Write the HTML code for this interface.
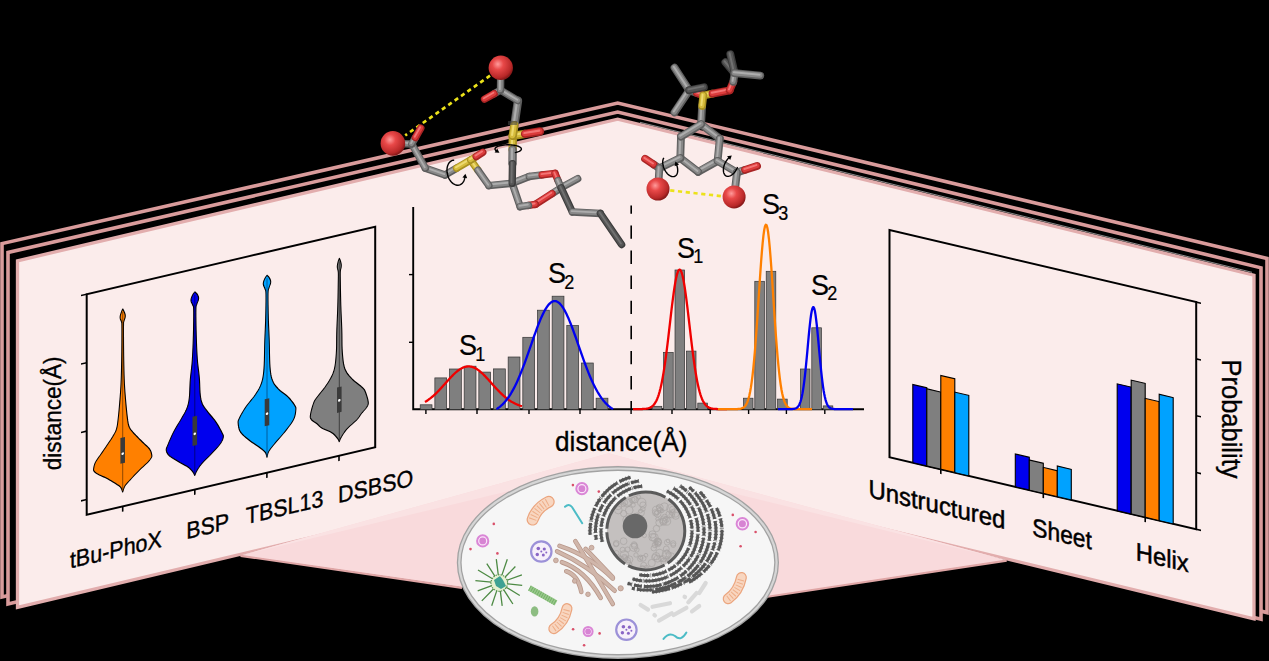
<!DOCTYPE html><html><head><meta charset="utf-8"><style>
html,body{margin:0;padding:0;background:#000;overflow:hidden}
svg{display:block;font-family:"Liberation Sans",sans-serif}
</style></head><body>
<svg width="1269" height="661" viewBox="0 0 1269 661">
<rect width="1269" height="661" fill="#000"/>
<path d="M2.0,597.0 L2.0,243.6 L617.7,103.0 L1267.0,258.4 L1267.0,612.6 L617.7,451.0 Z" fill="#000" stroke="#d99b9b" stroke-width="3.6" stroke-linejoin="miter"/>
<path d="M8.0,604.0 L8.0,252.4 L617.7,112.0 L1261.0,267.8 L1261.0,619.2 L617.7,458.0 Z" fill="#000" stroke="#d99b9b" stroke-width="3.6" stroke-linejoin="miter"/>
<path d="M17.5,607.4 L17.5,260.8 L617.7,119.2 L1254.0,275.2 L1254.0,618.8 L617.7,464.6 Z" fill="#fbeceb" stroke="#e2adad" stroke-width="3.3" stroke-linejoin="miter"/>
<line x1="640" y1="122.3" x2="1252" y2="272.3" stroke="#fff" stroke-width="0.8" opacity="0.7"/>
<polygon points="240.5,555.5 608.7,453.3 1006.7,560.3 768,596.4 618,605 459.9,587" fill="#f9dadc"/>
<polygon points="240.5,555.5 608.7,453.3 1006.7,560.3 617.7,464.8" fill="#fae2e3"/>
<path d="M240.5,555.8 L462,587.8 M1006.7,560.6 L766,597" stroke="#e0a6a6" stroke-width="2.2" fill="none"/>
<ellipse cx="617.9" cy="562.5" rx="158.7" ry="94" fill="#f6f6f6" stroke="#a2a2a2" stroke-width="4.8"/>
<ellipse cx="617.9" cy="562.5" rx="158.7" ry="94" fill="none" stroke="#d6d6d6" stroke-width="2.2"/>
<g transform="matrix(1,-0.234,0,1,0,20.288)">
<path d="M86.7,294.2 L375.2,294.2 L375.2,514.8 L86.7,514.8 Z" fill="none" stroke="#000" stroke-width="2.0"/>
<line x1="81" y1="294.2" x2="86.7" y2="294.2" stroke="#000" stroke-width="1.6"/>
<line x1="81" y1="362.7" x2="86.7" y2="362.7" stroke="#000" stroke-width="1.6"/>
<line x1="81" y1="431.1" x2="86.7" y2="431.1" stroke="#000" stroke-width="1.6"/>
<line x1="81" y1="499.5" x2="86.7" y2="499.5" stroke="#000" stroke-width="1.6"/>
<line x1="122.7" y1="514.8" x2="122.7" y2="520" stroke="#000" stroke-width="1.6"/>
<line x1="194.8" y1="514.8" x2="194.8" y2="520" stroke="#000" stroke-width="1.6"/>
<line x1="266.9" y1="514.8" x2="266.9" y2="520" stroke="#000" stroke-width="1.6"/>
<line x1="339.0" y1="514.8" x2="339.0" y2="520" stroke="#000" stroke-width="1.6"/>
<polygon points="122.70,317.40 122.83,317.67 123.01,318.04 123.23,318.48 123.46,318.97 123.69,319.48 123.90,320.00 124.11,320.54 124.34,321.12 124.58,321.73 124.79,322.34 124.97,322.94 125.10,323.50 125.18,324.02 125.23,324.52 125.25,325.00 125.23,325.48 125.18,325.98 125.10,326.50 124.96,327.05 124.76,327.61 124.53,328.19 124.29,328.78 124.07,329.38 123.90,330.00 123.78,330.38 123.69,330.48 123.62,330.59 123.57,331.02 123.53,332.05 123.50,334.00 123.48,337.04 123.48,340.96 123.49,345.50 123.51,350.37 123.55,355.30 123.60,360.00 123.66,364.66 123.74,369.52 123.83,374.44 123.94,379.26 124.06,383.83 124.20,388.00 124.36,391.69 124.53,395.00 124.73,398.06 124.93,401.00 125.16,403.94 125.40,407.00 125.67,410.27 125.96,413.67 126.27,417.06 126.59,420.33 126.90,423.35 127.20,426.00 127.47,428.23 127.71,430.15 127.96,431.81 128.22,433.30 128.53,434.67 128.90,436.00 129.34,437.23 129.84,438.30 130.38,439.25 130.95,440.15 131.56,441.05 132.20,442.00 132.86,442.98 133.54,443.93 134.25,444.88 135.01,445.85 135.82,446.88 136.70,448.00 137.67,449.22 138.72,450.52 139.82,451.88 140.96,453.26 142.09,454.64 143.20,456.00 144.34,457.36 145.53,458.74 146.73,460.12 147.87,461.48 148.88,462.78 149.70,464.00 150.32,465.15 150.79,466.26 151.14,467.31 151.39,468.30 151.56,469.20 151.70,470.00 151.80,470.66 151.85,471.19 151.82,471.62 151.72,472.04 151.51,472.48 151.20,473.00 150.79,473.59 150.29,474.19 149.70,474.81 149.00,475.48 148.17,476.21 147.20,477.00 146.04,477.87 144.70,478.81 143.23,479.81 141.70,480.85 140.17,481.92 138.70,483.00 137.25,484.13 135.75,485.33 134.25,486.56 132.80,487.78 131.43,488.94 130.20,490.00 129.10,490.94 128.08,491.80 127.16,492.60 126.32,493.38 125.57,494.17 124.90,495.00 124.33,495.94 123.86,496.97 123.47,498.01 123.16,498.99 122.90,499.81 122.70,500.40 122.70,500.40 122.50,499.81 122.24,498.99 121.93,498.01 121.54,496.97 121.07,495.94 120.50,495.00 119.83,494.17 119.08,493.38 118.24,492.60 117.32,491.80 116.30,490.94 115.20,490.00 113.97,488.94 112.60,487.78 111.15,486.56 109.65,485.33 108.15,484.13 106.70,483.00 105.23,481.92 103.70,480.85 102.17,479.81 100.70,478.81 99.36,477.87 98.20,477.00 97.23,476.21 96.40,475.48 95.70,474.81 95.11,474.19 94.61,473.59 94.20,473.00 93.89,472.48 93.68,472.04 93.58,471.62 93.55,471.19 93.60,470.66 93.70,470.00 93.84,469.20 94.01,468.30 94.26,467.31 94.61,466.26 95.08,465.15 95.70,464.00 96.52,462.78 97.53,461.48 98.67,460.12 99.87,458.74 101.06,457.36 102.20,456.00 103.31,454.64 104.44,453.26 105.58,451.88 106.68,450.52 107.73,449.22 108.70,448.00 109.58,446.88 110.39,445.85 111.15,444.88 111.86,443.93 112.54,442.98 113.20,442.00 113.84,441.05 114.45,440.15 115.03,439.25 115.56,438.30 116.06,437.23 116.50,436.00 116.87,434.67 117.18,433.30 117.44,431.81 117.69,430.15 117.93,428.23 118.20,426.00 118.50,423.35 118.81,420.33 119.13,417.06 119.44,413.67 119.73,410.27 120.00,407.00 120.24,403.94 120.47,401.00 120.67,398.06 120.87,395.00 121.04,391.69 121.20,388.00 121.34,383.83 121.46,379.26 121.57,374.44 121.66,369.52 121.74,364.66 121.80,360.00 121.85,355.30 121.89,350.37 121.91,345.50 121.92,340.96 121.92,337.04 121.90,334.00 121.87,332.05 121.83,331.02 121.78,330.59 121.71,330.48 121.62,330.38 121.50,330.00 121.33,329.38 121.11,328.78 120.88,328.19 120.64,327.61 120.44,327.05 120.30,326.50 120.22,325.98 120.17,325.48 120.15,325.00 120.17,324.52 120.22,324.02 120.30,323.50 120.43,322.94 120.61,322.34 120.83,321.73 121.06,321.12 121.29,320.54 121.50,320.00 121.71,319.48 121.94,318.97 122.17,318.48 122.39,318.04 122.57,317.67 122.70,317.40" fill="#ff8000" stroke="#000" stroke-width="1.1" stroke-linejoin="round"/><line x1="122.7" y1="320.4" x2="122.7" y2="499.4" stroke="#7a3d00" stroke-width="0.8"/>
<polygon points="194.80,317.20 195.02,317.44 195.33,317.75 195.70,318.13 196.09,318.56 196.47,319.02 196.80,319.50 197.11,320.02 197.42,320.60 197.73,321.21 198.00,321.83 198.23,322.43 198.40,323.00 198.51,323.52 198.58,324.00 198.60,324.47 198.58,324.94 198.51,325.45 198.40,326.00 198.22,326.60 197.96,327.22 197.66,327.88 197.34,328.56 197.04,329.26 196.80,330.00 196.60,330.54 196.40,330.85 196.23,331.19 196.09,331.81 195.97,333.00 195.90,335.00 195.87,338.01 195.88,341.85 195.93,346.25 196.00,350.93 196.09,355.60 196.20,360.00 196.33,364.24 196.47,368.56 196.64,372.88 196.84,377.11 197.06,381.18 197.30,385.00 197.59,388.53 197.94,391.81 198.31,394.94 198.67,397.96 199.01,400.96 199.30,404.00 199.51,407.15 199.65,410.37 199.77,413.56 199.89,416.63 200.06,419.47 200.30,422.00 200.60,424.14 200.91,425.96 201.27,427.56 201.69,429.04 202.19,430.48 202.80,432.00 203.52,433.53 204.34,435.00 205.24,436.44 206.21,437.89 207.23,439.40 208.30,441.00 209.45,442.71 210.71,444.48 212.02,446.31 213.34,448.19 214.61,450.09 215.80,452.00 216.94,454.02 218.08,456.19 219.18,458.38 220.19,460.48 221.08,462.39 221.80,464.00 222.36,465.23 222.80,466.15 223.11,466.88 223.30,467.52 223.36,468.19 223.30,469.00 223.13,469.92 222.86,470.85 222.46,471.81 221.91,472.81 221.20,473.87 220.30,475.00 219.16,476.22 217.78,477.52 216.24,478.88 214.60,480.26 212.93,481.64 211.30,483.00 209.63,484.36 207.84,485.74 206.03,487.12 204.28,488.48 202.67,489.78 201.30,491.00 200.18,492.14 199.23,493.23 198.44,494.26 197.76,495.24 197.15,496.15 196.60,497.00 196.11,497.80 195.72,498.57 195.41,499.27 195.16,499.90 194.96,500.41 194.80,500.80 194.80,500.80 194.64,500.41 194.44,499.90 194.19,499.27 193.88,498.57 193.49,497.80 193.00,497.00 192.45,496.15 191.84,495.24 191.16,494.26 190.37,493.23 189.42,492.14 188.30,491.00 186.93,489.78 185.32,488.48 183.57,487.12 181.76,485.74 179.97,484.36 178.30,483.00 176.67,481.64 175.00,480.26 173.36,478.88 171.82,477.52 170.44,476.22 169.30,475.00 168.40,473.87 167.69,472.81 167.14,471.81 166.74,470.85 166.47,469.92 166.30,469.00 166.24,468.19 166.30,467.52 166.49,466.88 166.80,466.15 167.24,465.23 167.80,464.00 168.52,462.39 169.41,460.48 170.43,458.38 171.52,456.19 172.66,454.02 173.80,452.00 174.99,450.09 176.26,448.19 177.58,446.31 178.89,444.48 180.15,442.71 181.30,441.00 182.37,439.40 183.39,437.89 184.36,436.44 185.26,435.00 186.08,433.53 186.80,432.00 187.41,430.48 187.91,429.04 188.33,427.56 188.69,425.96 189.00,424.14 189.30,422.00 189.54,419.47 189.71,416.63 189.83,413.56 189.95,410.37 190.09,407.15 190.30,404.00 190.59,400.96 190.93,397.96 191.29,394.94 191.66,391.81 192.01,388.53 192.30,385.00 192.54,381.18 192.76,377.11 192.96,372.88 193.13,368.56 193.27,364.24 193.40,360.00 193.51,355.60 193.60,350.93 193.68,346.25 193.72,341.85 193.73,338.01 193.70,335.00 193.63,333.00 193.51,331.81 193.37,331.19 193.20,330.85 193.00,330.54 192.80,330.00 192.56,329.26 192.26,328.56 191.94,327.88 191.64,327.22 191.38,326.60 191.20,326.00 191.09,325.45 191.02,324.94 191.00,324.47 191.02,324.00 191.09,323.52 191.20,323.00 191.37,322.43 191.60,321.83 191.88,321.21 192.18,320.60 192.49,320.02 192.80,319.50 193.13,319.02 193.51,318.56 193.90,318.13 194.27,317.75 194.58,317.44 194.80,317.20" fill="#0000ee" stroke="#000" stroke-width="1.1" stroke-linejoin="round"/><line x1="194.8" y1="320.2" x2="194.8" y2="499.8" stroke="#000070" stroke-width="0.8"/>
<polygon points="267.00,317.50 267.22,317.76 267.54,318.11 267.91,318.53 268.30,319.00 268.67,319.50 269.00,320.00 269.30,320.53 269.59,321.11 269.88,321.72 270.13,322.33 270.34,322.93 270.50,323.50 270.60,324.02 270.67,324.50 270.69,324.97 270.67,325.44 270.60,325.95 270.50,326.50 270.33,327.09 270.09,327.70 269.81,328.34 269.52,329.02 269.24,329.73 269.00,330.50 268.79,331.12 268.58,331.54 268.39,332.00 268.22,332.74 268.09,334.00 268.00,336.00 267.97,338.94 267.98,342.67 268.03,346.91 268.11,351.39 268.20,355.84 268.30,360.00 268.42,363.84 268.56,367.59 268.72,371.31 268.89,375.07 269.05,378.95 269.20,383.00 269.32,387.42 269.41,392.19 269.50,397.06 269.61,401.81 269.77,406.21 270.00,410.00 270.28,413.13 270.58,415.78 270.93,418.06 271.34,420.11 271.86,422.05 272.50,424.00 273.26,425.90 274.11,427.63 275.06,429.25 276.11,430.81 277.26,432.38 278.50,434.00 279.91,435.67 281.51,437.33 283.21,439.00 284.91,440.67 286.54,442.33 288.00,444.00 289.34,445.72 290.65,447.52 291.88,449.31 292.99,451.04 293.94,452.62 294.70,454.00 295.25,455.08 295.61,455.89 295.81,456.56 295.89,457.22 295.88,457.99 295.80,459.00 295.69,460.26 295.51,461.67 295.25,463.19 294.85,464.78 294.28,466.40 293.50,468.00 292.46,469.62 291.17,471.30 289.71,473.00 288.15,474.70 286.56,476.38 285.00,478.00 283.42,479.58 281.74,481.15 280.02,482.69 278.34,484.19 276.75,485.63 275.30,487.00 273.98,488.30 272.72,489.54 271.56,490.72 270.50,491.85 269.57,492.94 268.80,494.00 268.21,495.07 267.79,496.15 267.49,497.19 267.29,498.13 267.14,498.92 267.00,499.50 267.00,499.50 266.86,498.92 266.71,498.13 266.51,497.19 266.21,496.15 265.79,495.07 265.20,494.00 264.43,492.94 263.50,491.85 262.44,490.72 261.28,489.54 260.02,488.30 258.70,487.00 257.25,485.63 255.66,484.19 253.97,482.69 252.26,481.15 250.58,479.58 249.00,478.00 247.44,476.38 245.85,474.70 244.29,473.00 242.83,471.30 241.54,469.62 240.50,468.00 239.72,466.40 239.15,464.78 238.75,463.19 238.49,461.67 238.31,460.26 238.20,459.00 238.12,457.99 238.11,457.22 238.19,456.56 238.39,455.89 238.75,455.08 239.30,454.00 240.06,452.62 241.01,451.04 242.12,449.31 243.35,447.52 244.66,445.72 246.00,444.00 247.46,442.33 249.09,440.67 250.79,439.00 252.49,437.33 254.09,435.67 255.50,434.00 256.74,432.38 257.89,430.81 258.94,429.25 259.89,427.63 260.74,425.90 261.50,424.00 262.14,422.05 262.66,420.11 263.07,418.06 263.42,415.78 263.72,413.13 264.00,410.00 264.23,406.21 264.39,401.81 264.50,397.06 264.59,392.19 264.68,387.42 264.80,383.00 264.95,378.95 265.11,375.07 265.28,371.31 265.44,367.59 265.58,363.84 265.70,360.00 265.80,355.84 265.89,351.39 265.97,346.91 266.02,342.67 266.03,338.94 266.00,336.00 265.91,334.00 265.78,332.74 265.61,332.00 265.42,331.54 265.21,331.12 265.00,330.50 264.76,329.73 264.48,329.02 264.19,328.34 263.91,327.70 263.67,327.09 263.50,326.50 263.40,325.95 263.33,325.44 263.31,324.97 263.33,324.50 263.40,324.02 263.50,323.50 263.66,322.93 263.87,322.33 264.12,321.72 264.41,321.11 264.70,320.53 265.00,320.00 265.33,319.50 265.70,319.00 266.09,318.53 266.46,318.11 266.78,317.76 267.00,317.50" fill="#00a2ff" stroke="#000" stroke-width="1.1" stroke-linejoin="round"/><line x1="267.0" y1="320.5" x2="267.0" y2="498.5" stroke="#00508a" stroke-width="0.8"/>
<polygon points="339.30,317.50 339.41,317.75 339.56,318.09 339.74,318.50 339.94,318.96 340.13,319.47 340.30,320.00 340.47,320.59 340.64,321.26 340.82,321.97 340.98,322.69 341.11,323.37 341.20,324.00 341.25,324.55 341.27,325.04 341.26,325.50 341.22,325.96 341.17,326.45 341.10,327.00 341.00,327.55 340.86,328.07 340.69,328.62 340.53,329.26 340.40,330.03 340.30,331.00 340.25,332.03 340.22,333.04 340.22,334.19 340.23,335.63 340.26,337.52 340.30,340.00 340.35,343.24 340.41,347.15 340.49,351.50 340.58,356.07 340.68,360.65 340.80,365.00 340.94,369.20 341.11,373.44 341.30,377.69 341.49,381.89 341.66,386.01 341.80,390.00 341.89,393.90 341.93,397.74 341.96,401.50 342.00,405.15 342.11,408.66 342.30,412.00 342.55,415.18 342.81,418.22 343.13,421.12 343.54,423.89 344.09,426.51 344.80,429.00 345.69,431.30 346.74,433.41 347.91,435.38 349.20,437.26 350.57,439.12 352.00,441.00 353.62,442.96 355.47,444.96 357.41,446.94 359.29,448.81 360.97,450.53 362.30,452.00 363.22,453.12 363.85,453.93 364.27,454.56 364.59,455.19 364.90,455.95 365.30,457.00 365.82,458.44 366.38,460.15 366.94,462.00 367.44,463.85 367.84,465.56 368.10,467.00 368.24,468.11 368.29,469.00 368.25,469.75 368.09,470.44 367.78,471.17 367.30,472.00 366.58,472.95 365.63,473.96 364.53,475.00 363.38,476.04 362.27,477.05 361.30,478.00 360.53,478.87 359.89,479.67 359.30,480.44 358.65,481.22 357.85,482.06 356.80,483.00 355.40,484.05 353.71,485.19 351.88,486.38 350.02,487.59 348.28,488.81 346.80,490.00 345.56,491.20 344.44,492.45 343.44,493.70 342.55,494.90 341.77,496.02 341.10,497.00 340.55,497.86 340.14,498.64 339.84,499.34 339.62,499.93 339.45,500.42 339.30,500.80 339.30,500.80 339.15,500.42 338.98,499.93 338.76,499.34 338.46,498.64 338.05,497.86 337.50,497.00 336.83,496.02 336.05,494.90 335.16,493.70 334.16,492.45 333.04,491.20 331.80,490.00 330.32,488.81 328.58,487.59 326.73,486.38 324.89,485.19 323.20,484.05 321.80,483.00 320.75,482.06 319.95,481.22 319.30,480.44 318.71,479.67 318.07,478.87 317.30,478.00 316.33,477.05 315.22,476.04 314.07,475.00 312.97,473.96 312.02,472.95 311.30,472.00 310.82,471.17 310.51,470.44 310.35,469.75 310.31,469.00 310.36,468.11 310.50,467.00 310.76,465.56 311.16,463.85 311.66,462.00 312.22,460.15 312.78,458.44 313.30,457.00 313.70,455.95 314.01,455.19 314.33,454.56 314.75,453.93 315.38,453.12 316.30,452.00 317.63,450.53 319.31,448.81 321.19,446.94 323.13,444.96 324.98,442.96 326.60,441.00 328.03,439.12 329.40,437.26 330.69,435.38 331.86,433.41 332.91,431.30 333.80,429.00 334.51,426.51 335.06,423.89 335.47,421.12 335.79,418.22 336.05,415.18 336.30,412.00 336.49,408.66 336.60,405.15 336.64,401.50 336.67,397.74 336.71,393.90 336.80,390.00 336.94,386.01 337.11,381.89 337.30,377.69 337.49,373.44 337.66,369.20 337.80,365.00 337.92,360.65 338.02,356.07 338.11,351.50 338.19,347.15 338.25,343.24 338.30,340.00 338.34,337.52 338.37,335.63 338.38,334.19 338.38,333.04 338.35,332.03 338.30,331.00 338.20,330.03 338.07,329.26 337.91,328.62 337.74,328.07 337.60,327.55 337.50,327.00 337.43,326.45 337.38,325.96 337.34,325.50 337.33,325.04 337.35,324.55 337.40,324.00 337.49,323.37 337.62,322.69 337.78,321.97 337.96,321.26 338.13,320.59 338.30,320.00 338.47,319.47 338.66,318.96 338.86,318.50 339.04,318.09 339.19,317.75 339.30,317.50" fill="#7f7f7f" stroke="#000" stroke-width="1.1" stroke-linejoin="round"/><line x1="339.3" y1="320.5" x2="339.3" y2="499.8" stroke="#333" stroke-width="0.8"/>
<rect x="120.4" y="446" width="4.6" height="25.69999999999999" fill="#3a3a3a"/>
<circle cx="122.7" cy="462.1" r="1.3" fill="#fff"/>
<rect x="192.5" y="441.6" width="4.6" height="29.19999999999999" fill="#3a3a3a"/>
<circle cx="194.8" cy="459.1" r="1.3" fill="#fff"/>
<rect x="264.7" y="441" width="4.6" height="27" fill="#3a3a3a"/>
<circle cx="267" cy="455.9" r="1.3" fill="#fff"/>
<rect x="337.0" y="446.1" width="4.6" height="25.399999999999977" fill="#3a3a3a"/>
<circle cx="339.3" cy="459.5" r="1.3" fill="#fff"/>
<text transform="translate(69.9,564.5) scale(1,1.1)" font-size="21.5" fill="#000" stroke="#000" stroke-width="0.35">tBu-PhoX</text>
<text transform="translate(186.2,562.5) scale(1,1.1)" font-size="21.5" fill="#000" stroke="#000" stroke-width="0.35">BSP</text>
<text transform="translate(245.8,561.5) scale(1,1.1)" font-size="21.5" fill="#000" stroke="#000" stroke-width="0.35">TBSL13</text>
<text transform="translate(338.0,562) scale(1,1.1)" font-size="21.5" fill="#000" stroke="#000" stroke-width="0.35">DSBSO</text>
</g>
<text transform="translate(61,413.5) rotate(-90) scale(1,1.1)" text-anchor="middle" font-size="22.5" fill="#000" stroke="#000" stroke-width="0.3">distance(Å)</text>
<path d="M413.2,207 L413.2,409.3 L864,409.3" fill="none" stroke="#000" stroke-width="1.9"/>
<line x1="409" y1="274.6" x2="413.2" y2="274.6" stroke="#000" stroke-width="1.4"/>
<line x1="409" y1="342.3" x2="413.2" y2="342.3" stroke="#000" stroke-width="1.4"/>
<line x1="425.9" y1="409.5" x2="425.9" y2="414" stroke="#000" stroke-width="1.4"/>
<line x1="477" y1="409.5" x2="477" y2="414" stroke="#000" stroke-width="1.4"/>
<line x1="529" y1="409.5" x2="529" y2="414" stroke="#000" stroke-width="1.4"/>
<line x1="580" y1="409.5" x2="580" y2="414" stroke="#000" stroke-width="1.4"/>
<line x1="631.1" y1="409.5" x2="631.1" y2="414" stroke="#000" stroke-width="1.4"/>
<line x1="672" y1="409.5" x2="672" y2="414" stroke="#000" stroke-width="1.4"/>
<line x1="710.2" y1="409.5" x2="710.2" y2="414" stroke="#000" stroke-width="1.4"/>
<line x1="748.6" y1="409.5" x2="748.6" y2="414" stroke="#000" stroke-width="1.4"/>
<line x1="786.4" y1="409.5" x2="786.4" y2="414" stroke="#000" stroke-width="1.4"/>
<line x1="824.8" y1="409.5" x2="824.8" y2="414" stroke="#000" stroke-width="1.4"/>
<line x1="631.2" y1="205.5" x2="631.2" y2="409" stroke="#000" stroke-width="1.6" stroke-dasharray="13.4,11.7" stroke-dashoffset="5.2"/>
<rect x="420.20" y="404.8" width="11.8" height="4.70" fill="#7f7f7f" stroke="#333" stroke-width="0.7"/>
<rect x="434.86" y="377.9" width="11.8" height="31.60" fill="#7f7f7f" stroke="#333" stroke-width="0.7"/>
<rect x="449.52" y="369" width="11.8" height="40.50" fill="#7f7f7f" stroke="#333" stroke-width="0.7"/>
<rect x="464.18" y="366.2" width="11.8" height="43.30" fill="#7f7f7f" stroke="#333" stroke-width="0.7"/>
<rect x="478.84" y="372.1" width="11.8" height="37.40" fill="#7f7f7f" stroke="#333" stroke-width="0.7"/>
<rect x="493.50" y="368.9" width="11.8" height="40.60" fill="#7f7f7f" stroke="#333" stroke-width="0.7"/>
<rect x="508.16" y="357" width="11.8" height="52.50" fill="#7f7f7f" stroke="#333" stroke-width="0.7"/>
<rect x="522.82" y="337.3" width="11.8" height="72.20" fill="#7f7f7f" stroke="#333" stroke-width="0.7"/>
<rect x="537.48" y="310.2" width="11.8" height="99.30" fill="#7f7f7f" stroke="#333" stroke-width="0.7"/>
<rect x="552.14" y="296.2" width="11.8" height="113.30" fill="#7f7f7f" stroke="#333" stroke-width="0.7"/>
<rect x="566.80" y="325.5" width="11.8" height="84.00" fill="#7f7f7f" stroke="#333" stroke-width="0.7"/>
<rect x="581.46" y="363" width="11.8" height="46.50" fill="#7f7f7f" stroke="#333" stroke-width="0.7"/>
<rect x="596.12" y="398.2" width="11.8" height="11.30" fill="#7f7f7f" stroke="#333" stroke-width="0.7"/>
<rect x="652.20" y="406.3" width="9.6" height="3.20" fill="#7f7f7f" stroke="#333" stroke-width="0.7"/>
<rect x="663.60" y="352.4" width="9.6" height="57.10" fill="#7f7f7f" stroke="#333" stroke-width="0.7"/>
<rect x="675.00" y="270" width="9.6" height="139.50" fill="#7f7f7f" stroke="#333" stroke-width="0.7"/>
<rect x="686.40" y="351.1" width="9.6" height="58.40" fill="#7f7f7f" stroke="#333" stroke-width="0.7"/>
<rect x="697.80" y="403.1" width="9.6" height="6.40" fill="#7f7f7f" stroke="#333" stroke-width="0.7"/>
<rect x="743.40" y="398.2" width="9.6" height="11.30" fill="#7f7f7f" stroke="#333" stroke-width="0.7"/>
<rect x="754.80" y="281.3" width="9.6" height="128.20" fill="#7f7f7f" stroke="#333" stroke-width="0.7"/>
<rect x="766.20" y="271.3" width="9.6" height="138.20" fill="#7f7f7f" stroke="#333" stroke-width="0.7"/>
<rect x="777.60" y="399.1" width="9.6" height="10.40" fill="#7f7f7f" stroke="#333" stroke-width="0.7"/>
<rect x="800.40" y="369" width="9.6" height="40.50" fill="#7f7f7f" stroke="#333" stroke-width="0.7"/>
<rect x="811.80" y="327.8" width="9.6" height="81.70" fill="#7f7f7f" stroke="#333" stroke-width="0.7"/>
<rect x="823.20" y="405.9" width="9.6" height="3.60" fill="#7f7f7f" stroke="#333" stroke-width="0.7"/>
<polyline points="425.00,401.96 425.81,401.47 426.62,400.97 427.43,400.43 428.23,399.88 429.04,399.30 429.85,398.70 430.66,398.07 431.47,397.42 432.27,396.75 433.08,396.05 433.89,395.34 434.70,394.60 435.51,393.84 436.32,393.06 437.12,392.26 437.93,391.44 438.74,390.61 439.55,389.76 440.36,388.90 441.17,388.03 441.98,387.14 442.78,386.25 443.59,385.35 444.40,384.44 445.21,383.53 446.02,382.62 446.82,381.71 447.63,380.81 448.44,379.91 449.25,379.02 450.06,378.14 450.87,377.27 451.68,376.42 452.48,375.59 453.29,374.78 454.10,374.00 454.91,373.24 455.72,372.51 456.52,371.81 457.33,371.15 458.14,370.52 458.95,369.93 459.76,369.38 460.57,368.87 461.38,368.40 462.18,367.98 462.99,367.61 463.80,367.28 464.61,367.01 465.42,366.78 466.23,366.61 467.03,366.49 467.84,366.42 468.65,366.40 469.46,366.44 470.27,366.53 471.07,366.67 471.88,366.86 472.69,367.10 473.50,367.40 474.31,367.74 475.12,368.13 475.93,368.57 476.73,369.05 477.54,369.58 478.35,370.14 479.16,370.75 479.97,371.39 480.77,372.07 481.58,372.78 482.39,373.52 483.20,374.29 484.01,375.08 484.82,375.90 485.62,376.74 486.43,377.59 487.24,378.46 488.05,379.35 488.86,380.24 489.67,381.14 490.48,382.05 491.28,382.96 492.09,383.87 492.90,384.78 493.71,385.68 494.52,386.58 495.32,387.47 496.13,388.35 496.94,389.22 497.75,390.08 498.56,390.92 499.37,391.75 500.18,392.56 500.98,393.35 501.79,394.12 502.60,394.87 503.41,395.60 504.22,396.31 505.02,397.00 505.83,397.66 506.64,398.30 507.45,398.92 508.26,399.52 509.07,400.09 509.88,400.63 510.68,401.16 511.49,401.66 512.30,402.13 513.11,402.59 513.92,403.02 514.73,403.43 515.53,403.82 516.34,404.19 517.15,404.54 517.96,404.87 518.77,405.18 519.58,405.47 520.38,405.75 521.19,406.00 522.00,406.25" fill="none" stroke="#f00000" stroke-width="2.3" stroke-linejoin="round"/>
<polyline points="496.50,409.10 497.47,408.48 498.44,407.82 499.41,407.10 500.38,406.32 501.35,405.48 502.32,404.58 503.30,403.62 504.27,402.59 505.24,401.49 506.21,400.31 507.18,399.06 508.15,397.74 509.12,396.33 510.09,394.85 511.06,393.29 512.03,391.64 513.00,389.91 513.98,388.09 514.95,386.20 515.92,384.22 516.89,382.16 517.86,380.01 518.83,377.80 519.80,375.50 520.77,373.14 521.74,370.70 522.71,368.20 523.68,365.64 524.65,363.03 525.62,360.37 526.60,357.67 527.57,354.93 528.54,352.16 529.51,349.38 530.48,346.58 531.45,343.79 532.42,341.00 533.39,338.22 534.36,335.48 535.33,332.77 536.30,330.10 537.27,327.50 538.25,324.96 539.22,322.50 540.19,320.13 541.16,317.86 542.13,315.69 543.10,313.65 544.07,311.73 545.04,309.94 546.01,308.31 546.98,306.82 547.95,305.49 548.92,304.33 549.90,303.33 550.87,302.52 551.84,301.88 552.81,301.42 553.78,301.15 554.75,301.07 555.72,301.17 556.69,301.46 557.66,301.93 558.63,302.59 559.60,303.42 560.58,304.43 561.55,305.61 562.52,306.96 563.49,308.46 564.46,310.11 565.43,311.91 566.40,313.84 567.37,315.90 568.34,318.07 569.31,320.35 570.28,322.73 571.25,325.20 572.23,327.75 573.20,330.36 574.17,333.02 575.14,335.74 576.11,338.49 577.08,341.26 578.05,344.05 579.02,346.85 579.99,349.64 580.96,352.42 581.93,355.18 582.90,357.92 583.88,360.62 584.85,363.27 585.82,365.88 586.79,368.43 587.76,370.92 588.73,373.35 589.70,375.71 590.67,377.99 591.64,380.20 592.61,382.33 593.58,384.38 594.55,386.35 595.52,388.24 596.50,390.05 597.47,391.77 598.44,393.40 599.41,394.96 600.38,396.44 601.35,397.83 602.32,399.15 603.29,400.39 604.26,401.55 605.23,402.64 606.20,403.67 607.17,404.62 608.15,405.51 609.12,406.34 610.09,407.12 611.06,407.83 612.03,408.49 613.00,409.10" fill="none" stroke="#0000f0" stroke-width="2.3" stroke-linejoin="round"/>
<polyline points="633.00,409.10 633.78,409.10 634.57,409.10 635.35,409.10 636.13,409.09 636.92,409.09 637.70,409.09 638.48,409.08 639.27,409.07 640.05,409.06 640.83,409.05 641.62,409.03 642.40,409.00 643.18,408.96 643.97,408.91 644.75,408.85 645.53,408.77 646.32,408.67 647.10,408.53 647.88,408.36 648.67,408.14 649.45,407.87 650.23,407.54 651.02,407.12 651.80,406.61 652.58,405.98 653.37,405.22 654.15,404.31 654.93,403.23 655.72,401.94 656.50,400.43 657.28,398.67 658.07,396.62 658.85,394.27 659.63,391.60 660.42,388.56 661.20,385.16 661.98,381.38 662.77,377.19 663.55,372.61 664.33,367.64 665.12,362.30 665.90,356.60 666.68,350.58 667.47,344.28 668.25,337.77 669.03,331.10 669.82,324.35 670.60,317.60 671.38,310.94 672.17,304.47 672.95,298.29 673.73,292.48 674.52,287.16 675.30,282.40 676.08,278.30 676.87,274.92 677.65,272.33 678.43,270.58 679.22,269.71 680.00,269.72 680.78,270.61 681.57,272.38 682.35,274.99 683.13,278.38 683.92,282.50 684.70,287.27 685.48,292.60 686.27,298.42 687.05,304.61 687.83,311.08 688.62,317.74 689.40,324.49 690.18,331.24 690.97,337.91 691.75,344.42 692.53,350.71 693.32,356.72 694.10,362.41 694.88,367.75 695.67,372.72 696.45,377.29 697.23,381.46 698.02,385.24 698.80,388.63 699.58,391.66 700.37,394.33 701.15,396.67 701.93,398.71 702.72,400.46 703.50,401.97 704.28,403.25 705.07,404.33 705.85,405.24 706.63,406.00 707.42,406.62 708.20,407.13 708.98,407.54 709.77,407.88 710.55,408.15 711.33,408.36 712.12,408.53 712.90,408.67 713.68,408.77 714.47,408.85 715.25,408.91 716.03,408.96 716.82,409.00 717.60,409.03 718.38,409.05 719.17,409.06 719.95,409.07 720.73,409.08 721.52,409.09 722.30,409.09 723.08,409.09 723.87,409.10 724.65,409.10 725.43,409.10 726.22,409.10 727.00,409.10" fill="none" stroke="#f00000" stroke-width="2.3" stroke-linejoin="round"/>
<polyline points="718.00,409.10 718.78,409.10 719.57,409.10 720.35,409.10 721.13,409.10 721.92,409.10 722.70,409.10 723.48,409.10 724.27,409.10 725.05,409.10 725.83,409.10 726.62,409.10 727.40,409.10 728.18,409.10 728.97,409.10 729.75,409.10 730.53,409.10 731.32,409.10 732.10,409.10 732.88,409.09 733.67,409.09 734.45,409.08 735.23,409.07 736.02,409.06 736.80,409.04 737.58,409.01 738.37,408.96 739.15,408.89 739.93,408.79 740.72,408.64 741.50,408.44 742.28,408.16 743.07,407.77 743.85,407.25 744.63,406.55 745.42,405.64 746.20,404.44 746.98,402.90 747.77,400.95 748.55,398.50 749.33,395.48 750.12,391.80 750.90,387.38 751.68,382.14 752.47,376.01 753.25,368.96 754.03,360.96 754.82,352.03 755.60,342.23 756.38,331.63 757.17,320.37 757.95,308.65 758.73,296.68 759.52,284.73 760.30,273.08 761.08,262.04 761.87,251.93 762.65,243.04 763.43,235.66 764.22,230.02 765.00,226.32 765.78,224.68 766.57,225.16 767.35,227.73 768.13,232.31 768.92,238.75 769.70,246.84 770.48,256.31 771.27,266.88 772.05,278.23 772.83,290.05 773.62,302.05 774.40,313.94 775.18,325.47 775.97,336.45 776.75,346.71 777.53,356.14 778.32,364.65 779.10,372.23 779.88,378.86 780.67,384.58 781.45,389.45 782.23,393.53 783.02,396.91 783.80,399.66 784.58,401.88 785.37,403.63 786.15,405.01 786.93,406.08 787.72,406.89 788.50,407.50 789.28,407.96 790.07,408.29 790.85,408.54 791.63,408.71 792.42,408.84 793.20,408.92 793.98,408.98 794.77,409.02 795.55,409.05 796.33,409.07 797.12,409.08 797.90,409.09 798.68,409.09 799.47,409.09 800.25,409.10 801.03,409.10 801.82,409.10 802.60,409.10 803.38,409.10 804.17,409.10 804.95,409.10 805.73,409.10 806.52,409.10 807.30,409.10 808.08,409.10 808.87,409.10 809.65,409.10 810.43,409.10 811.22,409.10 812.00,409.10" fill="none" stroke="#ff8000" stroke-width="2.3" stroke-linejoin="round"/>
<polyline points="778.00,409.10 778.62,409.10 779.25,409.10 779.88,409.10 780.50,409.10 781.12,409.10 781.75,409.10 782.38,409.10 783.00,409.10 783.62,409.10 784.25,409.10 784.88,409.10 785.50,409.10 786.12,409.10 786.75,409.10 787.38,409.10 788.00,409.10 788.62,409.09 789.25,409.09 789.88,409.08 790.50,409.07 791.12,409.06 791.75,409.04 792.38,409.01 793.00,408.96 793.62,408.89 794.25,408.79 794.88,408.65 795.50,408.45 796.12,408.18 796.75,407.81 797.38,407.31 798.00,406.66 798.62,405.81 799.25,404.72 799.88,403.34 800.50,401.62 801.12,399.50 801.75,396.94 802.38,393.89 803.00,390.31 803.62,386.17 804.25,381.46 804.88,376.21 805.50,370.43 806.12,364.21 806.75,357.63 807.38,350.82 808.00,343.92 808.62,337.11 809.25,330.57 809.88,324.50 810.50,319.09 811.12,314.51 811.75,310.93 812.38,308.48 813.00,307.25 813.62,307.27 814.25,308.56 814.88,311.06 815.50,314.68 816.12,319.29 816.75,324.73 817.38,330.83 818.00,337.38 818.62,344.20 819.25,351.10 819.88,357.90 820.50,364.47 821.12,370.67 821.75,376.43 822.38,381.66 823.00,386.34 823.62,390.46 824.25,394.02 824.88,397.05 825.50,399.59 826.12,401.69 826.75,403.40 827.38,404.77 828.00,405.85 828.62,406.69 829.25,407.33 829.88,407.82 830.50,408.19 831.12,408.46 831.75,408.65 832.38,408.79 833.00,408.89 833.62,408.96 834.25,409.01 834.88,409.04 835.50,409.06 836.12,409.07 836.75,409.08 837.38,409.09 838.00,409.09 838.62,409.10 839.25,409.10 839.88,409.10 840.50,409.10 841.12,409.10 841.75,409.10 842.38,409.10 843.00,409.10 843.62,409.10 844.25,409.10 844.88,409.10 845.50,409.10 846.12,409.10 846.75,409.10 847.38,409.10 848.00,409.10 848.62,409.10 849.25,409.10 849.88,409.10 850.50,409.10 851.12,409.10 851.75,409.10 852.38,409.10 853.00,409.10" fill="none" stroke="#0000f0" stroke-width="2.3" stroke-linejoin="round"/>
<text transform="translate(459,355) scale(1,1.1)" font-size="27" fill="#000" stroke="#000" stroke-width="0.2">S</text><text transform="translate(475.3,360.8) scale(1,1.1)" font-size="18" fill="#000" stroke="#000" stroke-width="0.2">1</text>
<text transform="translate(548,283) scale(1,1.1)" font-size="27" fill="#000" stroke="#000" stroke-width="0.2">S</text><text transform="translate(564.3,288.8) scale(1,1.1)" font-size="18" fill="#000" stroke="#000" stroke-width="0.2">2</text>
<text transform="translate(677,257.5) scale(1,1.1)" font-size="27" fill="#000" stroke="#000" stroke-width="0.2">S</text><text transform="translate(693.3,263.3) scale(1,1.1)" font-size="18" fill="#000" stroke="#000" stroke-width="0.2">1</text>
<text transform="translate(762,214) scale(1,1.1)" font-size="27" fill="#000" stroke="#000" stroke-width="0.2">S</text><text transform="translate(778.3,219.8) scale(1,1.1)" font-size="18" fill="#000" stroke="#000" stroke-width="0.2">3</text>
<text transform="translate(811,294.5) scale(1,1.1)" font-size="27" fill="#000" stroke="#000" stroke-width="0.2">S</text><text transform="translate(827.3,300.3) scale(1,1.1)" font-size="18" fill="#000" stroke="#000" stroke-width="0.2">2</text>
<text transform="translate(555,450.6) scale(1,1.08)" font-size="26.2" fill="#000" stroke="#000" stroke-width="0.3">distance(Å)</text>
<g transform="matrix(1,0.235,0,1,0,-209.032)">
<path d="M889.5,457.2 L889.5,230 L1196.2,230 L1196.2,457.2 Z" fill="none" stroke="#000" stroke-width="2"/>
<line x1="1196.2" y1="230.0" x2="1201" y2="230.0" stroke="#000" stroke-width="1.6"/>
<line x1="1196.2" y1="286.8" x2="1201" y2="286.8" stroke="#000" stroke-width="1.6"/>
<line x1="1196.2" y1="343.6" x2="1201" y2="343.6" stroke="#000" stroke-width="1.6"/>
<line x1="1196.2" y1="400.4" x2="1201" y2="400.4" stroke="#000" stroke-width="1.6"/>
<line x1="1196.2" y1="457.2" x2="1201" y2="457.2" stroke="#000" stroke-width="1.6"/>
<line x1="940.8" y1="457.2" x2="940.8" y2="462" stroke="#000" stroke-width="1.6"/>
<line x1="1043.3" y1="457.2" x2="1043.3" y2="462" stroke="#000" stroke-width="1.6"/>
<line x1="1145.2" y1="457.2" x2="1145.2" y2="462" stroke="#000" stroke-width="1.6"/>
<rect x="912.8" y="379.0" width="14" height="78.2" fill="#0000ee" stroke="#000" stroke-width="1.1"/>
<rect x="926.8" y="380.0" width="14" height="77.2" fill="#7f7f7f" stroke="#000" stroke-width="1.1"/>
<rect x="940.8" y="363.4" width="14" height="93.8" fill="#ff8000" stroke="#000" stroke-width="1.1"/>
<rect x="954.8" y="376.8" width="14" height="80.4" fill="#00a2ff" stroke="#000" stroke-width="1.1"/>
<rect x="1015.3" y="424.4" width="14" height="32.8" fill="#0000ee" stroke="#000" stroke-width="1.1"/>
<rect x="1029.3" y="427.1" width="14" height="30.1" fill="#7f7f7f" stroke="#000" stroke-width="1.1"/>
<rect x="1043.3" y="431.3" width="14" height="25.9" fill="#ff8000" stroke="#000" stroke-width="1.1"/>
<rect x="1057.3" y="426.6" width="14" height="30.6" fill="#00a2ff" stroke="#000" stroke-width="1.1"/>
<rect x="1117.2" y="330.3" width="14" height="126.9" fill="#0000ee" stroke="#000" stroke-width="1.1"/>
<rect x="1131.2" y="323.3" width="14" height="133.9" fill="#7f7f7f" stroke="#000" stroke-width="1.1"/>
<rect x="1145.2" y="338.3" width="14" height="118.9" fill="#ff8000" stroke="#000" stroke-width="1.1"/>
<rect x="1159.2" y="330.9" width="14" height="126.3" fill="#00a2ff" stroke="#000" stroke-width="1.1"/>
<text transform="translate(868.4,502) scale(1,1.1)" font-size="23" fill="#000" stroke="#000" stroke-width="0.45" textLength="137" lengthAdjust="spacingAndGlyphs">Unstructured</text>
<text transform="translate(1032.3,502) scale(1,1.1)" font-size="23" fill="#000" stroke="#000" stroke-width="0.45" textLength="59.5" lengthAdjust="spacingAndGlyphs">Sheet</text>
<text transform="translate(1135.8,502) scale(1,1.1)" font-size="23" fill="#000" stroke="#000" stroke-width="0.45" textLength="53" lengthAdjust="spacingAndGlyphs">Helix</text>
</g>
<text transform="translate(1221.5,419) rotate(90) scale(1,1.1)" text-anchor="middle" font-size="25.5" fill="#000" stroke="#000" stroke-width="0.3">Probability</text>
<defs><radialGradient id="sph" cx="0.38" cy="0.35" r="0.65"><stop offset="0" stop-color="#ff9a9a"/><stop offset="0.35" stop-color="#e84848"/><stop offset="0.85" stop-color="#b82828"/><stop offset="1" stop-color="#8a1a1a"/></radialGradient></defs>
<line x1="490" y1="75.7" x2="405.2" y2="135.4" stroke="#ece21a" stroke-width="2.7" stroke-dasharray="4.2,3.6"/>
<line x1="520.2" y1="206.7" x2="512.2" y2="183.3" stroke="#5e5e5e" stroke-width="7.4" stroke-linecap="round"/><line x1="519.9000000000001" y1="206.29999999999998" x2="511.90000000000003" y2="182.9" stroke="#888888" stroke-width="5.03" stroke-linecap="round"/><line x1="519.5" y1="205.79999999999998" x2="511.50000000000006" y2="182.4" stroke="#b4b4b4" stroke-width="1.85" stroke-linecap="round" opacity="0.85"/>
<line x1="561.1" y1="187.8" x2="552.105" y2="193.61" stroke="#5e5e5e" stroke-width="7.4" stroke-linecap="round"/><line x1="560.8000000000001" y1="187.4" x2="551.8050000000001" y2="193.21" stroke="#888888" stroke-width="5.03" stroke-linecap="round"/><line x1="560.4" y1="186.9" x2="551.405" y2="192.71" stroke="#b4b4b4" stroke-width="1.85" stroke-linecap="round" opacity="0.85"/><line x1="552.105" y1="193.61" x2="535.4" y2="204.4" stroke="#a82424" stroke-width="7.4" stroke-linecap="round"/><line x1="551.8050000000001" y1="193.21" x2="535.1" y2="204.0" stroke="#dc3c3c" stroke-width="5.03" stroke-linecap="round"/><line x1="551.405" y1="192.71" x2="534.6999999999999" y2="203.5" stroke="#f88080" stroke-width="1.85" stroke-linecap="round" opacity="0.85"/>
<line x1="535.4" y1="204.4" x2="528.5600000000001" y2="205.435" stroke="#a82424" stroke-width="7.4" stroke-linecap="round"/><line x1="535.1" y1="204.0" x2="528.2600000000001" y2="205.035" stroke="#dc3c3c" stroke-width="5.03" stroke-linecap="round"/><line x1="534.6999999999999" y1="203.5" x2="527.86" y2="204.535" stroke="#f88080" stroke-width="1.85" stroke-linecap="round" opacity="0.85"/><line x1="528.5600000000001" y1="205.435" x2="520.2" y2="206.7" stroke="#5e5e5e" stroke-width="7.4" stroke-linecap="round"/><line x1="528.2600000000001" y1="205.035" x2="519.9000000000001" y2="206.29999999999998" stroke="#888888" stroke-width="5.03" stroke-linecap="round"/><line x1="527.86" y1="204.535" x2="519.5" y2="205.79999999999998" stroke="#b4b4b4" stroke-width="1.85" stroke-linecap="round" opacity="0.85"/>
<line x1="561.1" y1="187.8" x2="577.7" y2="178.7" stroke="#5e5e5e" stroke-width="7.4" stroke-linecap="round"/><line x1="560.8000000000001" y1="187.4" x2="577.4000000000001" y2="178.29999999999998" stroke="#888888" stroke-width="5.03" stroke-linecap="round"/><line x1="560.4" y1="186.9" x2="577.0" y2="177.79999999999998" stroke="#b4b4b4" stroke-width="1.85" stroke-linecap="round" opacity="0.85"/>
<line x1="512.2" y1="183.3" x2="529.3" y2="176.5" stroke="#5e5e5e" stroke-width="7.4" stroke-linecap="round"/><line x1="511.90000000000003" y1="182.9" x2="529.0" y2="176.1" stroke="#888888" stroke-width="5.03" stroke-linecap="round"/><line x1="511.50000000000006" y1="182.4" x2="528.5999999999999" y2="175.6" stroke="#b4b4b4" stroke-width="1.85" stroke-linecap="round" opacity="0.85"/>
<line x1="529.3" y1="176.5" x2="542.15" y2="174.95" stroke="#5e5e5e" stroke-width="7.4" stroke-linecap="round"/><line x1="529.0" y1="176.1" x2="541.85" y2="174.54999999999998" stroke="#888888" stroke-width="5.03" stroke-linecap="round"/><line x1="528.5999999999999" y1="175.6" x2="541.4499999999999" y2="174.04999999999998" stroke="#b4b4b4" stroke-width="1.85" stroke-linecap="round" opacity="0.85"/><line x1="542.15" y1="174.95" x2="555" y2="173.4" stroke="#a82424" stroke-width="7.4" stroke-linecap="round"/><line x1="541.85" y1="174.54999999999998" x2="554.7" y2="173.0" stroke="#dc3c3c" stroke-width="5.03" stroke-linecap="round"/><line x1="541.4499999999999" y1="174.04999999999998" x2="554.3" y2="172.5" stroke="#f88080" stroke-width="1.85" stroke-linecap="round" opacity="0.85"/>
<line x1="555" y1="173.4" x2="558.05" y2="180.60000000000002" stroke="#a82424" stroke-width="7.4" stroke-linecap="round"/><line x1="554.7" y1="173.0" x2="557.75" y2="180.20000000000002" stroke="#dc3c3c" stroke-width="5.03" stroke-linecap="round"/><line x1="554.3" y1="172.5" x2="557.3499999999999" y2="179.70000000000002" stroke="#f88080" stroke-width="1.85" stroke-linecap="round" opacity="0.85"/><line x1="558.05" y1="180.60000000000002" x2="561.1" y2="187.8" stroke="#5e5e5e" stroke-width="7.4" stroke-linecap="round"/><line x1="557.75" y1="180.20000000000002" x2="560.8000000000001" y2="187.4" stroke="#888888" stroke-width="5.03" stroke-linecap="round"/><line x1="557.3499999999999" y1="179.70000000000002" x2="560.4" y2="186.9" stroke="#b4b4b4" stroke-width="1.85" stroke-linecap="round" opacity="0.85"/>
<line x1="561.1" y1="187.8" x2="572.4" y2="212" stroke="#3c3c3c" stroke-width="7.4" stroke-linecap="round"/><line x1="560.8000000000001" y1="187.4" x2="572.1" y2="211.6" stroke="#555555" stroke-width="5.03" stroke-linecap="round"/><line x1="560.4" y1="186.9" x2="571.6999999999999" y2="211.1" stroke="#777777" stroke-width="1.85" stroke-linecap="round" opacity="0.85"/>
<line x1="572.4" y1="212" x2="600.4" y2="213.5" stroke="#5e5e5e" stroke-width="7.4" stroke-linecap="round"/><line x1="572.1" y1="211.6" x2="600.1" y2="213.1" stroke="#888888" stroke-width="5.03" stroke-linecap="round"/><line x1="571.6999999999999" y1="211.1" x2="599.6999999999999" y2="212.6" stroke="#b4b4b4" stroke-width="1.85" stroke-linecap="round" opacity="0.85"/>
<line x1="600.4" y1="213.5" x2="621.6" y2="244.5" stroke="#3c3c3c" stroke-width="7.4" stroke-linecap="round"/><line x1="600.1" y1="213.1" x2="621.3000000000001" y2="244.1" stroke="#555555" stroke-width="5.03" stroke-linecap="round"/><line x1="599.6999999999999" y1="212.6" x2="620.9" y2="243.6" stroke="#777777" stroke-width="1.85" stroke-linecap="round" opacity="0.85"/>
<line x1="488.9" y1="185.6" x2="512.2" y2="183.3" stroke="#5e5e5e" stroke-width="7.4" stroke-linecap="round"/><line x1="488.59999999999997" y1="185.2" x2="511.90000000000003" y2="182.9" stroke="#888888" stroke-width="5.03" stroke-linecap="round"/><line x1="488.2" y1="184.7" x2="511.50000000000006" y2="182.4" stroke="#b4b4b4" stroke-width="1.85" stroke-linecap="round" opacity="0.85"/>
<line x1="512.8" y1="135.8" x2="512.65" y2="149.7" stroke="#a89020" stroke-width="8.4" stroke-linecap="round"/><line x1="512.5" y1="135.4" x2="512.35" y2="149.29999999999998" stroke="#d6bc3c" stroke-width="5.71" stroke-linecap="round"/><line x1="512.0999999999999" y1="134.9" x2="511.95" y2="148.79999999999998" stroke="#f2e07a" stroke-width="2.10" stroke-linecap="round" opacity="0.85"/><line x1="512.65" y1="149.7" x2="512.5" y2="163.6" stroke="#5e5e5e" stroke-width="8.4" stroke-linecap="round"/><line x1="512.35" y1="149.29999999999998" x2="512.2" y2="163.2" stroke="#888888" stroke-width="5.71" stroke-linecap="round"/><line x1="511.95" y1="148.79999999999998" x2="511.8" y2="162.7" stroke="#b4b4b4" stroke-width="2.10" stroke-linecap="round" opacity="0.85"/>
<line x1="512.5" y1="163.6" x2="512.2" y2="183.3" stroke="#3c3c3c" stroke-width="7.4" stroke-linecap="round"/><line x1="512.2" y1="163.2" x2="511.90000000000003" y2="182.9" stroke="#555555" stroke-width="5.03" stroke-linecap="round"/><line x1="511.8" y1="162.7" x2="511.50000000000006" y2="182.4" stroke="#777777" stroke-width="1.85" stroke-linecap="round" opacity="0.85"/>
<line x1="470.7" y1="160" x2="477.97999999999996" y2="170.24" stroke="#a89020" stroke-width="7.4" stroke-linecap="round"/><line x1="470.4" y1="159.6" x2="477.67999999999995" y2="169.84" stroke="#d6bc3c" stroke-width="5.03" stroke-linecap="round"/><line x1="470.0" y1="159.1" x2="477.28" y2="169.34" stroke="#f2e07a" stroke-width="1.85" stroke-linecap="round" opacity="0.85"/><line x1="477.97999999999996" y1="170.24" x2="488.9" y2="185.6" stroke="#5e5e5e" stroke-width="7.4" stroke-linecap="round"/><line x1="477.67999999999995" y1="169.84" x2="488.59999999999997" y2="185.2" stroke="#888888" stroke-width="5.03" stroke-linecap="round"/><line x1="477.28" y1="169.34" x2="488.2" y2="184.7" stroke="#b4b4b4" stroke-width="1.85" stroke-linecap="round" opacity="0.85"/>
<line x1="445" y1="175" x2="456.565" y2="168.25" stroke="#5e5e5e" stroke-width="7.4" stroke-linecap="round"/><line x1="444.7" y1="174.6" x2="456.265" y2="167.85" stroke="#888888" stroke-width="5.03" stroke-linecap="round"/><line x1="444.3" y1="174.1" x2="455.865" y2="167.35" stroke="#b4b4b4" stroke-width="1.85" stroke-linecap="round" opacity="0.85"/><line x1="456.565" y1="168.25" x2="470.7" y2="160" stroke="#a89020" stroke-width="7.4" stroke-linecap="round"/><line x1="456.265" y1="167.85" x2="470.4" y2="159.6" stroke="#d6bc3c" stroke-width="5.03" stroke-linecap="round"/><line x1="455.865" y1="167.35" x2="470.0" y2="159.1" stroke="#f2e07a" stroke-width="1.85" stroke-linecap="round" opacity="0.85"/>
<line x1="425.4" y1="168.2" x2="445" y2="175" stroke="#5e5e5e" stroke-width="7.4" stroke-linecap="round"/><line x1="425.09999999999997" y1="167.79999999999998" x2="444.7" y2="174.6" stroke="#888888" stroke-width="5.03" stroke-linecap="round"/><line x1="424.7" y1="167.29999999999998" x2="444.3" y2="174.1" stroke="#b4b4b4" stroke-width="1.85" stroke-linecap="round" opacity="0.85"/>
<line x1="411.8" y1="144" x2="425.4" y2="168.2" stroke="#5e5e5e" stroke-width="7.4" stroke-linecap="round"/><line x1="411.5" y1="143.6" x2="425.09999999999997" y2="167.79999999999998" stroke="#888888" stroke-width="5.03" stroke-linecap="round"/><line x1="411.1" y1="143.1" x2="424.7" y2="167.29999999999998" stroke="#b4b4b4" stroke-width="1.85" stroke-linecap="round" opacity="0.85"/>
<line x1="392.9" y1="143.4" x2="411.8" y2="144" stroke="#5e5e5e" stroke-width="7.4" stroke-linecap="round"/><line x1="392.59999999999997" y1="143.0" x2="411.5" y2="143.6" stroke="#888888" stroke-width="5.03" stroke-linecap="round"/><line x1="392.2" y1="142.5" x2="411.1" y2="143.1" stroke="#b4b4b4" stroke-width="1.85" stroke-linecap="round" opacity="0.85"/>
<line x1="411.8" y1="144" x2="415.40000000000003" y2="137.64" stroke="#5e5e5e" stroke-width="7.4" stroke-linecap="round"/><line x1="411.5" y1="143.6" x2="415.1" y2="137.23999999999998" stroke="#888888" stroke-width="5.03" stroke-linecap="round"/><line x1="411.1" y1="143.1" x2="414.70000000000005" y2="136.73999999999998" stroke="#b4b4b4" stroke-width="1.85" stroke-linecap="round" opacity="0.85"/><line x1="415.40000000000003" y1="137.64" x2="420.8" y2="128.1" stroke="#a82424" stroke-width="7.4" stroke-linecap="round"/><line x1="415.1" y1="137.23999999999998" x2="420.5" y2="127.69999999999999" stroke="#dc3c3c" stroke-width="5.03" stroke-linecap="round"/><line x1="414.70000000000005" y1="136.73999999999998" x2="420.1" y2="127.19999999999999" stroke="#f88080" stroke-width="1.85" stroke-linecap="round" opacity="0.85"/>
<line x1="470.7" y1="160" x2="476.145" y2="156.535" stroke="#a89020" stroke-width="7.4" stroke-linecap="round"/><line x1="470.4" y1="159.6" x2="475.84499999999997" y2="156.135" stroke="#d6bc3c" stroke-width="5.03" stroke-linecap="round"/><line x1="470.0" y1="159.1" x2="475.445" y2="155.635" stroke="#f2e07a" stroke-width="1.85" stroke-linecap="round" opacity="0.85"/><line x1="476.145" y1="156.535" x2="482.8" y2="152.3" stroke="#a82424" stroke-width="7.4" stroke-linecap="round"/><line x1="475.84499999999997" y1="156.135" x2="482.5" y2="151.9" stroke="#dc3c3c" stroke-width="5.03" stroke-linecap="round"/><line x1="475.445" y1="155.635" x2="482.1" y2="151.4" stroke="#f88080" stroke-width="1.85" stroke-linecap="round" opacity="0.85"/>
<line x1="512.8" y1="135.8" x2="525.04" y2="133.865" stroke="#a89020" stroke-width="8.4" stroke-linecap="round"/><line x1="512.5" y1="135.4" x2="524.74" y2="133.465" stroke="#d6bc3c" stroke-width="5.71" stroke-linecap="round"/><line x1="512.0999999999999" y1="134.9" x2="524.3399999999999" y2="132.965" stroke="#f2e07a" stroke-width="2.10" stroke-linecap="round" opacity="0.85"/><line x1="525.04" y1="133.865" x2="540" y2="131.5" stroke="#a82424" stroke-width="8.4" stroke-linecap="round"/><line x1="524.74" y1="133.465" x2="539.7" y2="131.1" stroke="#dc3c3c" stroke-width="5.71" stroke-linecap="round"/><line x1="524.3399999999999" y1="132.965" x2="539.3" y2="130.6" stroke="#f88080" stroke-width="2.10" stroke-linecap="round" opacity="0.85"/>
<line x1="518" y1="100.7" x2="514.36" y2="125.27000000000001" stroke="#5e5e5e" stroke-width="8.4" stroke-linecap="round"/><line x1="517.7" y1="100.3" x2="514.0600000000001" y2="124.87" stroke="#888888" stroke-width="5.71" stroke-linecap="round"/><line x1="517.3" y1="99.8" x2="513.66" y2="124.37" stroke="#b4b4b4" stroke-width="2.10" stroke-linecap="round" opacity="0.85"/><line x1="514.36" y1="125.27000000000001" x2="512.8" y2="135.8" stroke="#a89020" stroke-width="8.4" stroke-linecap="round"/><line x1="514.0600000000001" y1="124.87" x2="512.5" y2="135.4" stroke="#d6bc3c" stroke-width="5.71" stroke-linecap="round"/><line x1="513.66" y1="124.37" x2="512.0999999999999" y2="134.9" stroke="#f2e07a" stroke-width="2.10" stroke-linecap="round" opacity="0.85"/>
<line x1="500.5" y1="90.1" x2="518" y2="100.7" stroke="#5e5e5e" stroke-width="7.4" stroke-linecap="round"/><line x1="500.2" y1="89.69999999999999" x2="517.7" y2="100.3" stroke="#888888" stroke-width="5.03" stroke-linecap="round"/><line x1="499.8" y1="89.19999999999999" x2="517.3" y2="99.8" stroke="#b4b4b4" stroke-width="1.85" stroke-linecap="round" opacity="0.85"/>
<line x1="500.5" y1="90.1" x2="494.14" y2="93.69999999999999" stroke="#5e5e5e" stroke-width="7.4" stroke-linecap="round"/><line x1="500.2" y1="89.69999999999999" x2="493.84" y2="93.29999999999998" stroke="#888888" stroke-width="5.03" stroke-linecap="round"/><line x1="499.8" y1="89.19999999999999" x2="493.44" y2="92.79999999999998" stroke="#b4b4b4" stroke-width="1.85" stroke-linecap="round" opacity="0.85"/><line x1="494.14" y1="93.69999999999999" x2="484.6" y2="99.1" stroke="#a82424" stroke-width="7.4" stroke-linecap="round"/><line x1="493.84" y1="93.29999999999998" x2="484.3" y2="98.69999999999999" stroke="#dc3c3c" stroke-width="5.03" stroke-linecap="round"/><line x1="493.44" y1="92.79999999999998" x2="483.90000000000003" y2="98.19999999999999" stroke="#f88080" stroke-width="1.85" stroke-linecap="round" opacity="0.85"/>
<line x1="500.8" y1="67.8" x2="500.5" y2="90.1" stroke="#5e5e5e" stroke-width="7.4" stroke-linecap="round"/><line x1="500.5" y1="67.39999999999999" x2="500.2" y2="89.69999999999999" stroke="#888888" stroke-width="5.03" stroke-linecap="round"/><line x1="500.1" y1="66.89999999999999" x2="499.8" y2="89.19999999999999" stroke="#b4b4b4" stroke-width="1.85" stroke-linecap="round" opacity="0.85"/>
<rect x="508" y="121" width="9" height="4" fill="#454545" opacity="0.6"/>
<circle cx="500.8" cy="67.8" r="12.2" fill="url(#sph)"/>
<circle cx="392.9" cy="143.4" r="12.3" fill="url(#sph)"/>
<g transform="translate(456,172.7) rotate(-15)"><path d="M1.51,-12.61 L0.57,-12.77 L-0.38,-12.79 L-1.32,-12.65 L-2.25,-12.36 L-3.15,-11.93 L-4.02,-11.35 L-4.83,-10.64 L-5.59,-9.81 L-6.28,-8.85 L-6.90,-7.79 L-7.44,-6.64 L-7.88,-5.41 L-8.24,-4.11 L-8.49,-2.77 L-8.65,-1.39 L-8.70,-0.00 L-8.65,1.39 L-8.49,2.77 L-8.24,4.11 L-7.88,5.41 L-7.44,6.64 L-6.90,7.79 L-6.28,8.85 L-5.59,9.81 L-4.83,10.64 L-4.02,11.35 L-3.15,11.93 L-2.25,12.36 L-1.32,12.65 L-0.38,12.79 L0.57,12.77 L1.51,12.61 L2.43,12.29 L3.33,11.83 L4.18,11.22 L4.99,10.49 L5.74,9.62 L6.41,8.65 L7.02,7.57 L7.53,6.40" fill="none" stroke="#000" stroke-width="1.4"/><path d="M8.83,3.47 L9.32,8.29 L4.94,6.34 Z" fill="#000"/></g>
<g transform="translate(508.2,149) rotate(0)"><path d="M6.60,3.64 L7.90,3.37 L9.09,3.05 L10.15,2.69 L11.07,2.29 L11.84,1.86 L12.44,1.40 L12.87,0.93 L13.13,0.44 L13.20,-0.05 L13.09,-0.55 L12.79,-1.03 L12.32,-1.51 L11.68,-1.96 L10.88,-2.38 L9.92,-2.77 L8.83,-3.12 L7.62,-3.43 L6.30,-3.69 L4.89,-3.90 L3.42,-4.06 L1.89,-4.16 L0.35,-4.20 L-1.21,-4.18 L-2.74,-4.11 L-4.24,-3.98 L-5.68,-3.79 L-7.04,-3.55 L-8.31,-3.26 L-9.46,-2.93 L-10.47,-2.56 L-11.34,-2.15 L-12.06,-1.71 L-12.61,-1.25 L-12.98,-0.77 L-13.17,-0.27 L-13.18,0.22 L-13.01,0.71 L-12.66,1.19 L-12.13,1.66 L-11.43,2.10" fill="none" stroke="#000" stroke-width="1.4"/><path d="M-8.73,3.81 L-13.56,3.59 L-10.99,-0.46 Z" fill="#000"/></g>
<line x1="734.6" y1="73.2" x2="725.4" y2="62.2" stroke="#3c3c3c" stroke-width="7.8" stroke-linecap="round"/><line x1="734.3000000000001" y1="72.8" x2="725.1" y2="61.800000000000004" stroke="#555555" stroke-width="5.30" stroke-linecap="round"/><line x1="733.9" y1="72.3" x2="724.6999999999999" y2="61.300000000000004" stroke="#777777" stroke-width="1.95" stroke-linecap="round" opacity="0.85"/>
<line x1="734.6" y1="73.2" x2="730.3" y2="54.2" stroke="#3c3c3c" stroke-width="7.8" stroke-linecap="round"/><line x1="734.3000000000001" y1="72.8" x2="730.0" y2="53.800000000000004" stroke="#555555" stroke-width="5.30" stroke-linecap="round"/><line x1="733.9" y1="72.3" x2="729.5999999999999" y2="53.300000000000004" stroke="#777777" stroke-width="1.95" stroke-linecap="round" opacity="0.85"/>
<line x1="689.2" y1="90.3" x2="674.5" y2="67.7" stroke="#5e5e5e" stroke-width="7.8" stroke-linecap="round"/><line x1="688.9000000000001" y1="89.89999999999999" x2="674.2" y2="67.3" stroke="#888888" stroke-width="5.30" stroke-linecap="round"/><line x1="688.5" y1="89.39999999999999" x2="673.8" y2="66.8" stroke="#b4b4b4" stroke-width="1.95" stroke-linecap="round" opacity="0.85"/>
<line x1="689.2" y1="90.3" x2="674.5" y2="112.4" stroke="#5e5e5e" stroke-width="7.8" stroke-linecap="round"/><line x1="688.9000000000001" y1="89.89999999999999" x2="674.2" y2="112.0" stroke="#888888" stroke-width="5.30" stroke-linecap="round"/><line x1="688.5" y1="89.39999999999999" x2="673.8" y2="111.5" stroke="#b4b4b4" stroke-width="1.95" stroke-linecap="round" opacity="0.85"/>
<line x1="689.2" y1="90.3" x2="696.955" y2="93.16" stroke="#5e5e5e" stroke-width="7.8" stroke-linecap="round"/><line x1="688.9000000000001" y1="89.89999999999999" x2="696.6550000000001" y2="92.75999999999999" stroke="#888888" stroke-width="5.30" stroke-linecap="round"/><line x1="688.5" y1="89.39999999999999" x2="696.255" y2="92.25999999999999" stroke="#b4b4b4" stroke-width="1.95" stroke-linecap="round" opacity="0.85"/><line x1="696.955" y1="93.16" x2="703.3" y2="95.5" stroke="#a82424" stroke-width="7.8" stroke-linecap="round"/><line x1="696.6550000000001" y1="92.75999999999999" x2="703.0" y2="95.1" stroke="#dc3c3c" stroke-width="5.30" stroke-linecap="round"/><line x1="696.255" y1="92.25999999999999" x2="702.5999999999999" y2="94.6" stroke="#f88080" stroke-width="1.95" stroke-linecap="round" opacity="0.85"/>
<line x1="703.3" y1="95.5" x2="712.54" y2="93.67999999999999" stroke="#a89020" stroke-width="7.8" stroke-linecap="round"/><line x1="703.0" y1="95.1" x2="712.24" y2="93.27999999999999" stroke="#d6bc3c" stroke-width="5.30" stroke-linecap="round"/><line x1="702.5999999999999" y1="94.6" x2="711.8399999999999" y2="92.77999999999999" stroke="#f2e07a" stroke-width="1.95" stroke-linecap="round" opacity="0.85"/><line x1="712.54" y1="93.67999999999999" x2="729.7" y2="90.3" stroke="#a82424" stroke-width="7.8" stroke-linecap="round"/><line x1="712.24" y1="93.27999999999999" x2="729.4000000000001" y2="89.89999999999999" stroke="#dc3c3c" stroke-width="5.30" stroke-linecap="round"/><line x1="711.8399999999999" y1="92.77999999999999" x2="729.0" y2="89.39999999999999" stroke="#f88080" stroke-width="1.95" stroke-linecap="round" opacity="0.85"/>
<line x1="729.7" y1="90.3" x2="733.3" y2="81.8" stroke="#a82424" stroke-width="7.8" stroke-linecap="round"/><line x1="729.4000000000001" y1="89.89999999999999" x2="733.0" y2="81.39999999999999" stroke="#dc3c3c" stroke-width="5.30" stroke-linecap="round"/><line x1="729.0" y1="89.39999999999999" x2="732.5999999999999" y2="80.89999999999999" stroke="#f88080" stroke-width="1.95" stroke-linecap="round" opacity="0.85"/>
<line x1="733.3" y1="81.8" x2="734.6" y2="73.2" stroke="#5e5e5e" stroke-width="7.8" stroke-linecap="round"/><line x1="733.0" y1="81.39999999999999" x2="734.3000000000001" y2="72.8" stroke="#888888" stroke-width="5.30" stroke-linecap="round"/><line x1="732.5999999999999" y1="80.89999999999999" x2="733.9" y2="72.3" stroke="#b4b4b4" stroke-width="1.95" stroke-linecap="round" opacity="0.85"/>
<line x1="734.6" y1="73.2" x2="760.3" y2="75.6" stroke="#5e5e5e" stroke-width="7.8" stroke-linecap="round"/><line x1="734.3000000000001" y1="72.8" x2="760.0" y2="75.19999999999999" stroke="#888888" stroke-width="5.30" stroke-linecap="round"/><line x1="733.9" y1="72.3" x2="759.5999999999999" y2="74.69999999999999" stroke="#b4b4b4" stroke-width="1.95" stroke-linecap="round" opacity="0.85"/>
<line x1="689.2" y1="90.3" x2="703.9" y2="87.3" stroke="#3c3c3c" stroke-width="7.8" stroke-linecap="round"/><line x1="688.9000000000001" y1="89.89999999999999" x2="703.6" y2="86.89999999999999" stroke="#555555" stroke-width="5.30" stroke-linecap="round"/><line x1="688.5" y1="89.39999999999999" x2="703.1999999999999" y2="86.39999999999999" stroke="#777777" stroke-width="1.95" stroke-linecap="round" opacity="0.85"/>
<line x1="701.1" y1="124.3" x2="702.1" y2="106" stroke="#5e5e5e" stroke-width="7.8" stroke-linecap="round"/><line x1="700.8000000000001" y1="123.89999999999999" x2="701.8000000000001" y2="105.6" stroke="#888888" stroke-width="5.30" stroke-linecap="round"/><line x1="700.4" y1="123.39999999999999" x2="701.4" y2="105.1" stroke="#b4b4b4" stroke-width="1.95" stroke-linecap="round" opacity="0.85"/>
<line x1="702.1" y1="106" x2="703.3" y2="95.5" stroke="#a89020" stroke-width="7.8" stroke-linecap="round"/><line x1="701.8000000000001" y1="105.6" x2="703.0" y2="95.1" stroke="#d6bc3c" stroke-width="5.30" stroke-linecap="round"/><line x1="701.4" y1="105.1" x2="702.5999999999999" y2="94.6" stroke="#f2e07a" stroke-width="1.95" stroke-linecap="round" opacity="0.85"/>
<line x1="701.1" y1="124.3" x2="719.8" y2="138.7" stroke="#5e5e5e" stroke-width="7.8" stroke-linecap="round"/><line x1="700.8000000000001" y1="123.89999999999999" x2="719.5" y2="138.29999999999998" stroke="#888888" stroke-width="5.30" stroke-linecap="round"/><line x1="700.4" y1="123.39999999999999" x2="719.0999999999999" y2="137.79999999999998" stroke="#b4b4b4" stroke-width="1.95" stroke-linecap="round" opacity="0.85"/>
<line x1="719.8" y1="138.7" x2="717.6" y2="161" stroke="#5e5e5e" stroke-width="7.8" stroke-linecap="round"/><line x1="719.5" y1="138.29999999999998" x2="717.3000000000001" y2="160.6" stroke="#888888" stroke-width="5.30" stroke-linecap="round"/><line x1="719.0999999999999" y1="137.79999999999998" x2="716.9" y2="160.1" stroke="#b4b4b4" stroke-width="1.95" stroke-linecap="round" opacity="0.85"/>
<line x1="717.6" y1="161" x2="698.2" y2="171.8" stroke="#5e5e5e" stroke-width="7.8" stroke-linecap="round"/><line x1="717.3000000000001" y1="160.6" x2="697.9000000000001" y2="171.4" stroke="#888888" stroke-width="5.30" stroke-linecap="round"/><line x1="716.9" y1="160.1" x2="697.5" y2="170.9" stroke="#b4b4b4" stroke-width="1.95" stroke-linecap="round" opacity="0.85"/>
<line x1="698.2" y1="171.8" x2="680.3" y2="158.1" stroke="#5e5e5e" stroke-width="7.8" stroke-linecap="round"/><line x1="697.9000000000001" y1="171.4" x2="680.0" y2="157.7" stroke="#888888" stroke-width="5.30" stroke-linecap="round"/><line x1="697.5" y1="170.9" x2="679.5999999999999" y2="157.2" stroke="#b4b4b4" stroke-width="1.95" stroke-linecap="round" opacity="0.85"/>
<line x1="680.3" y1="158.1" x2="681" y2="136.6" stroke="#5e5e5e" stroke-width="7.8" stroke-linecap="round"/><line x1="680.0" y1="157.7" x2="680.7" y2="136.2" stroke="#888888" stroke-width="5.30" stroke-linecap="round"/><line x1="679.5999999999999" y1="157.2" x2="680.3" y2="135.7" stroke="#b4b4b4" stroke-width="1.95" stroke-linecap="round" opacity="0.85"/>
<line x1="681" y1="136.6" x2="701.1" y2="124.3" stroke="#5e5e5e" stroke-width="7.8" stroke-linecap="round"/><line x1="680.7" y1="136.2" x2="700.8000000000001" y2="123.89999999999999" stroke="#888888" stroke-width="5.30" stroke-linecap="round"/><line x1="680.3" y1="135.7" x2="700.4" y2="123.39999999999999" stroke="#b4b4b4" stroke-width="1.95" stroke-linecap="round" opacity="0.85"/>
<line x1="680.3" y1="158.1" x2="659.4" y2="168.2" stroke="#5e5e5e" stroke-width="7.8" stroke-linecap="round"/><line x1="680.0" y1="157.7" x2="659.1" y2="167.79999999999998" stroke="#888888" stroke-width="5.30" stroke-linecap="round"/><line x1="679.5999999999999" y1="157.2" x2="658.6999999999999" y2="167.29999999999998" stroke="#b4b4b4" stroke-width="1.95" stroke-linecap="round" opacity="0.85"/>
<line x1="659.4" y1="168.2" x2="653.68" y2="164.44" stroke="#5e5e5e" stroke-width="7.8" stroke-linecap="round"/><line x1="659.1" y1="167.79999999999998" x2="653.38" y2="164.04" stroke="#888888" stroke-width="5.30" stroke-linecap="round"/><line x1="658.6999999999999" y1="167.29999999999998" x2="652.9799999999999" y2="163.54" stroke="#b4b4b4" stroke-width="1.95" stroke-linecap="round" opacity="0.85"/><line x1="653.68" y1="164.44" x2="645.1" y2="158.8" stroke="#a82424" stroke-width="7.8" stroke-linecap="round"/><line x1="653.38" y1="164.04" x2="644.8000000000001" y2="158.4" stroke="#dc3c3c" stroke-width="5.30" stroke-linecap="round"/><line x1="652.9799999999999" y1="163.54" x2="644.4" y2="157.9" stroke="#f88080" stroke-width="1.95" stroke-linecap="round" opacity="0.85"/>
<line x1="659.4" y1="168.2" x2="658" y2="189" stroke="#5e5e5e" stroke-width="7.8" stroke-linecap="round"/><line x1="659.1" y1="167.79999999999998" x2="657.7" y2="188.6" stroke="#888888" stroke-width="5.30" stroke-linecap="round"/><line x1="658.6999999999999" y1="167.29999999999998" x2="657.3" y2="188.1" stroke="#b4b4b4" stroke-width="1.95" stroke-linecap="round" opacity="0.85"/>
<line x1="717.6" y1="161" x2="737" y2="172.5" stroke="#5e5e5e" stroke-width="7.8" stroke-linecap="round"/><line x1="717.3000000000001" y1="160.6" x2="736.7" y2="172.1" stroke="#888888" stroke-width="5.30" stroke-linecap="round"/><line x1="716.9" y1="160.1" x2="736.3" y2="171.6" stroke="#b4b4b4" stroke-width="1.95" stroke-linecap="round" opacity="0.85"/>
<line x1="737" y1="172.5" x2="745.04" y2="169.9" stroke="#5e5e5e" stroke-width="7.8" stroke-linecap="round"/><line x1="736.7" y1="172.1" x2="744.74" y2="169.5" stroke="#888888" stroke-width="5.30" stroke-linecap="round"/><line x1="736.3" y1="171.6" x2="744.3399999999999" y2="169.0" stroke="#b4b4b4" stroke-width="1.95" stroke-linecap="round" opacity="0.85"/><line x1="745.04" y1="169.9" x2="757.1" y2="166" stroke="#a82424" stroke-width="7.8" stroke-linecap="round"/><line x1="744.74" y1="169.5" x2="756.8000000000001" y2="165.6" stroke="#dc3c3c" stroke-width="5.30" stroke-linecap="round"/><line x1="744.3399999999999" y1="169.0" x2="756.4" y2="165.1" stroke="#f88080" stroke-width="1.95" stroke-linecap="round" opacity="0.85"/>
<line x1="737" y1="172.5" x2="734.1" y2="196.9" stroke="#5e5e5e" stroke-width="7.8" stroke-linecap="round"/><line x1="736.7" y1="172.1" x2="733.8000000000001" y2="196.5" stroke="#888888" stroke-width="5.30" stroke-linecap="round"/><line x1="736.3" y1="171.6" x2="733.4" y2="196.0" stroke="#b4b4b4" stroke-width="1.95" stroke-linecap="round" opacity="0.85"/>
<line x1="670.2" y1="190.4" x2="721.9" y2="196.2" stroke="#ece21a" stroke-width="2.7" stroke-dasharray="4.2,3.6"/>
<circle cx="658" cy="189" r="11.5" fill="url(#sph)"/>
<circle cx="734.1" cy="196.9" r="11.5" fill="url(#sph)"/>
<g transform="translate(670.2,166.3) rotate(-25)"><path d="M-2.22,-10.34 L-2.86,-9.88 L-3.47,-9.30 L-4.04,-8.62 L-4.56,-7.85 L-5.02,-6.98 L-5.44,-6.03 L-5.79,-5.02 L-6.07,-3.94 L-6.28,-2.82 L-6.42,-1.67 L-6.49,-0.50 L-6.49,0.67 L-6.41,1.84 L-6.26,2.99 L-6.03,4.10 L-5.74,5.16 L-5.38,6.17 L-4.96,7.11 L-4.48,7.96 L-3.96,8.73 L-3.38,9.39 L-2.77,9.95 L-2.13,10.39 L-1.46,10.72 L-0.78,10.92 L-0.09,11.00 L0.61,10.95 L1.30,10.78 L1.97,10.48 L2.62,10.07 L3.24,9.54 L3.82,8.90 L4.36,8.16 L4.85,7.32 L5.28,6.41 L5.66,5.42 L5.97,4.36 L6.21,3.26 L6.38,2.12 L6.48,0.96" fill="none" stroke="#000" stroke-width="1.4"/><path d="M6.74,-2.23 L8.78,2.16 L4.00,1.76 Z" fill="#000"/></g>
<g transform="translate(730.9,166.0) rotate(25)"><path d="M6.40,-1.91 L6.48,-0.82 L6.50,0.29 L6.45,1.39 L6.33,2.47 L6.16,3.54 L5.91,4.56 L5.61,5.54 L5.26,6.47 L4.85,7.32 L4.39,8.11 L3.89,8.81 L3.35,9.43 L2.77,9.95 L2.17,10.37 L1.54,10.68 L0.90,10.89 L0.26,10.99 L-0.40,10.98 L-1.04,10.86 L-1.68,10.63 L-2.30,10.29 L-2.90,9.84 L-3.47,9.30 L-4.00,8.67 L-4.49,7.95 L-4.94,7.14 L-5.34,6.27 L-5.69,5.33 L-5.97,4.34 L-6.20,3.31 L-6.36,2.24 L-6.46,1.15 L-6.50,0.05 L-6.47,-1.05 L-6.38,-2.15 L-6.22,-3.22 L-5.99,-4.25 L-5.71,-5.25 L-5.37,-6.19 L-4.98,-7.07" fill="none" stroke="#000" stroke-width="1.4"/><path d="M-3.67,-9.99 L-3.20,-5.18 L-7.58,-7.14 Z" fill="#000"/></g>
<g><path d="M602.3,541.9 L601.7,538.8 L601.2,535.7 L601.0,532.6 L601.0,529.4 L601.2,526.3 L601.7,523.2 L602.3,520.1 L603.2,517.1 L604.3,514.1 L605.6,511.3 L607.0,508.5 L608.7,505.8 L610.5,503.3 L612.6,500.9 L614.7,498.6 L617.1,496.5 L619.5,494.6 L622.2,492.8 L624.9,491.3 L627.7,489.9 L630.6,488.7 L633.6,487.7 L636.6,487.0 L639.7,486.4 L642.9,486.1" fill="none" stroke="#565656" stroke-width="3.0" stroke-dasharray="16,2.2,9,2,22,2.5" stroke-dashoffset="3"/><path d="M602.3,541.9 L601.7,538.8 L601.2,535.7 L601.0,532.6 L601.0,529.4 L601.2,526.3 L601.7,523.2 L602.3,520.1 L603.2,517.1 L604.3,514.1 L605.6,511.3 L607.0,508.5 L608.7,505.8 L610.5,503.3 L612.6,500.9 L614.7,498.6 L617.1,496.5 L619.5,494.6 L622.2,492.8 L624.9,491.3 L627.7,489.9 L630.6,488.7 L633.6,487.7 L636.6,487.0 L639.7,486.4 L642.9,486.1" fill="none" stroke="#565656" stroke-width="4.3" stroke-dasharray="0.8,2.4" stroke-dashoffset="3" opacity="0.8"/></g>
<g><path d="M596.3,539.8 L595.8,536.3 L595.5,532.8 L595.5,529.2 L595.8,525.7 L596.3,522.2 L597.0,518.8 L598.0,515.4 L599.2,512.1 L600.6,508.9 L602.3,505.8 L604.1,502.8 L606.2,499.9 L608.5,497.2 L610.9,494.7 L613.5,492.3 L616.3,490.1 L619.2,488.2 L622.3,486.4 L625.5,484.9 L628.7,483.5 L632.1,482.5 L635.5,481.6 L639.0,481.0" fill="none" stroke="#565656" stroke-width="3.0" stroke-dasharray="11,2,19,2.4,8,2" stroke-dashoffset="6"/><path d="M596.3,539.8 L595.8,536.3 L595.5,532.8 L595.5,529.2 L595.8,525.7 L596.3,522.2 L597.0,518.8 L598.0,515.4 L599.2,512.1 L600.6,508.9 L602.3,505.8 L604.1,502.8 L606.2,499.9 L608.5,497.2 L610.9,494.7 L613.5,492.3 L616.3,490.1 L619.2,488.2 L622.3,486.4 L625.5,484.9 L628.7,483.5 L632.1,482.5 L635.5,481.6 L639.0,481.0" fill="none" stroke="#565656" stroke-width="4.3" stroke-dasharray="0.8,2.4" stroke-dashoffset="6" opacity="0.8"/></g>
<g><path d="M590.1,534.9 L590.0,530.9 L590.2,526.9 L590.6,522.9 L591.3,519.0 L592.3,515.1 L593.6,511.3 L595.1,507.6 L596.9,504.0 L599.0,500.5 L601.3,497.3 L603.8,494.1 L606.6,491.2 L609.5,488.5 L612.7,486.0 L616.0,483.7 L619.4,481.7 L623.0,479.9 L626.8,478.4 L630.6,477.2" fill="none" stroke="#565656" stroke-width="3.0" stroke-dasharray="21,2.5,13,2,9,2.2" stroke-dashoffset="9"/><path d="M590.1,534.9 L590.0,530.9 L590.2,526.9 L590.6,522.9 L591.3,519.0 L592.3,515.1 L593.6,511.3 L595.1,507.6 L596.9,504.0 L599.0,500.5 L601.3,497.3 L603.8,494.1 L606.6,491.2 L609.5,488.5 L612.7,486.0 L616.0,483.7 L619.4,481.7 L623.0,479.9 L626.8,478.4 L630.6,477.2" fill="none" stroke="#565656" stroke-width="4.3" stroke-dasharray="0.8,2.4" stroke-dashoffset="9" opacity="0.8"/></g>
<g><path d="M666.7,491.0 L669.5,492.5 L672.2,494.1 L674.7,495.9 L677.1,497.9 L679.4,500.1 L681.5,502.4 L683.4,504.8 L685.2,507.4 L686.7,510.1 L688.1,512.9 L689.3,515.8 L690.3,518.7 L691.0,521.7 L691.6,524.8 L691.9,527.9 L692.0,531.0 L691.9,534.1 L691.6,537.2 L691.0,540.3 L690.3,543.3 L689.3,546.2 L688.1,549.1 L686.7,551.9 L685.2,554.6 L683.4,557.2 L681.5,559.6 L679.4,561.9 L677.1,564.1 L674.7,566.1 L672.2,567.9 L669.5,569.5 L666.7,571.0 L663.9,572.3 L660.9,573.3 L657.9,574.2 L654.8,574.8 L651.7,575.3 L648.6,575.5 L645.4,575.5 L642.3,575.3 L639.2,574.8" fill="none" stroke="#565656" stroke-width="3.0" stroke-dasharray="9,2,15,2.6,20,2" stroke-dashoffset="12"/><path d="M666.7,491.0 L669.5,492.5 L672.2,494.1 L674.7,495.9 L677.1,497.9 L679.4,500.1 L681.5,502.4 L683.4,504.8 L685.2,507.4 L686.7,510.1 L688.1,512.9 L689.3,515.8 L690.3,518.7 L691.0,521.7 L691.6,524.8 L691.9,527.9 L692.0,531.0 L691.9,534.1 L691.6,537.2 L691.0,540.3 L690.3,543.3 L689.3,546.2 L688.1,549.1 L686.7,551.9 L685.2,554.6 L683.4,557.2 L681.5,559.6 L679.4,561.9 L677.1,564.1 L674.7,566.1 L672.2,567.9 L669.5,569.5 L666.7,571.0 L663.9,572.3 L660.9,573.3 L657.9,574.2 L654.8,574.8 L651.7,575.3 L648.6,575.5 L645.4,575.5 L642.3,575.3 L639.2,574.8" fill="none" stroke="#565656" stroke-width="4.3" stroke-dasharray="0.8,2.4" stroke-dashoffset="12" opacity="0.8"/></g>
<g><path d="M672.5,487.7 L675.5,489.5 L678.4,491.6 L681.1,493.8 L683.7,496.3 L686.1,498.9 L688.3,501.6 L690.3,504.5 L692.0,507.5 L693.6,510.7 L694.9,513.9 L696.0,517.2 L696.9,520.6 L697.5,524.0 L697.9,527.5 L698.0,531.0 L697.9,534.5 L697.5,538.0 L696.9,541.4 L696.0,544.8 L694.9,548.1 L693.6,551.3 L692.0,554.5 L690.3,557.5 L688.3,560.4 L686.1,563.1 L683.7,565.7 L681.1,568.2 L678.4,570.4 L675.5,572.5 L672.5,574.3 L669.4,575.9 L666.1,577.4 L662.8,578.6 L659.3,579.5 L655.9,580.2 L652.3,580.7 L648.8,581.0 L645.2,581.0 L641.7,580.7 L638.1,580.2 L634.7,579.5 L631.2,578.6" fill="none" stroke="#565656" stroke-width="3.0" stroke-dasharray="14,2.4,24,2,10,2.3" stroke-dashoffset="15"/><path d="M672.5,487.7 L675.5,489.5 L678.4,491.6 L681.1,493.8 L683.7,496.3 L686.1,498.9 L688.3,501.6 L690.3,504.5 L692.0,507.5 L693.6,510.7 L694.9,513.9 L696.0,517.2 L696.9,520.6 L697.5,524.0 L697.9,527.5 L698.0,531.0 L697.9,534.5 L697.5,538.0 L696.9,541.4 L696.0,544.8 L694.9,548.1 L693.6,551.3 L692.0,554.5 L690.3,557.5 L688.3,560.4 L686.1,563.1 L683.7,565.7 L681.1,568.2 L678.4,570.4 L675.5,572.5 L672.5,574.3 L669.4,575.9 L666.1,577.4 L662.8,578.6 L659.3,579.5 L655.9,580.2 L652.3,580.7 L648.8,581.0 L645.2,581.0 L641.7,580.7 L638.1,580.2 L634.7,579.5 L631.2,578.6" fill="none" stroke="#565656" stroke-width="4.3" stroke-dasharray="0.8,2.4" stroke-dashoffset="15" opacity="0.8"/></g>
<g><path d="M678.9,485.0 L682.1,487.3 L685.2,489.8 L688.1,492.5 L690.8,495.5 L693.3,498.6 L695.5,501.8 L697.5,505.2 L699.2,508.8 L700.7,512.4 L701.9,516.2 L702.9,520.0 L703.5,523.8 L703.9,527.7 L704.0,531.7 L703.8,535.6 L703.3,539.5 L702.6,543.3 L701.5,547.1 L700.2,550.8 L698.7,554.4 L696.8,557.9 L694.8,561.3 L692.4,564.5 L689.9,567.5 L687.2,570.4 L684.2,573.1 L681.1,575.5 L677.7,577.7 L674.3,579.7 L670.7,581.5 L667.0,583.0 L663.1,584.2 L659.2,585.2 L655.3,585.9 L651.3,586.3 L647.2,586.5 L643.2,586.4 L639.2,586.0 L635.2,585.3 L631.3,584.4 L627.5,583.2" fill="none" stroke="#565656" stroke-width="3.0" stroke-dasharray="18,2,8,2.5,16,2.2" stroke-dashoffset="18"/><path d="M678.9,485.0 L682.1,487.3 L685.2,489.8 L688.1,492.5 L690.8,495.5 L693.3,498.6 L695.5,501.8 L697.5,505.2 L699.2,508.8 L700.7,512.4 L701.9,516.2 L702.9,520.0 L703.5,523.8 L703.9,527.7 L704.0,531.7 L703.8,535.6 L703.3,539.5 L702.6,543.3 L701.5,547.1 L700.2,550.8 L698.7,554.4 L696.8,557.9 L694.8,561.3 L692.4,564.5 L689.9,567.5 L687.2,570.4 L684.2,573.1 L681.1,575.5 L677.7,577.7 L674.3,579.7 L670.7,581.5 L667.0,583.0 L663.1,584.2 L659.2,585.2 L655.3,585.9 L651.3,586.3 L647.2,586.5 L643.2,586.4 L639.2,586.0 L635.2,585.3 L631.3,584.4 L627.5,583.2" fill="none" stroke="#565656" stroke-width="4.3" stroke-dasharray="0.8,2.4" stroke-dashoffset="18" opacity="0.8"/></g>
<g><path d="M689.2,487.2 L692.3,490.0 L695.3,493.1 L698.0,496.3 L700.4,499.7 L702.6,503.3 L704.6,507.0 L706.2,510.8 L707.6,514.7 L708.6,518.7 L709.4,522.8 L709.8,526.9 L710.0,531.0 L709.8,535.1 L709.4,539.2 L708.6,543.3 L707.6,547.3 L706.2,551.2 L704.6,555.0 L702.6,558.7 L700.4,562.3 L698.0,565.7 L695.3,568.9 L692.3,572.0 L689.2,574.8 L685.8,577.5 L682.2,579.9 L678.5,582.1 L674.6,584.0 L670.6,585.7 L666.5,587.1 L662.2,588.2 L657.9,589.1 L653.6,589.7 L649.2,590.0 L644.8,590.0 L640.4,589.7 L636.1,589.1 L631.8,588.2" fill="none" stroke="#565656" stroke-width="3.0" stroke-dasharray="16,2.2,9,2,22,2.5" stroke-dashoffset="21"/><path d="M689.2,487.2 L692.3,490.0 L695.3,493.1 L698.0,496.3 L700.4,499.7 L702.6,503.3 L704.6,507.0 L706.2,510.8 L707.6,514.7 L708.6,518.7 L709.4,522.8 L709.8,526.9 L710.0,531.0 L709.8,535.1 L709.4,539.2 L708.6,543.3 L707.6,547.3 L706.2,551.2 L704.6,555.0 L702.6,558.7 L700.4,562.3 L698.0,565.7 L695.3,568.9 L692.3,572.0 L689.2,574.8 L685.8,577.5 L682.2,579.9 L678.5,582.1 L674.6,584.0 L670.6,585.7 L666.5,587.1 L662.2,588.2 L657.9,589.1 L653.6,589.7 L649.2,590.0 L644.8,590.0 L640.4,589.7 L636.1,589.1 L631.8,588.2" fill="none" stroke="#565656" stroke-width="4.3" stroke-dasharray="0.8,2.4" stroke-dashoffset="21" opacity="0.8"/></g>
<g><path d="M699.9,491.8 L702.9,495.2 L705.6,498.8 L708.0,502.5 L710.2,506.4 L712.0,510.5 L713.5,514.6 L714.6,518.8 L715.4,523.1 L715.9,527.4 L716.0,531.7 L715.8,536.0 L715.2,540.3 L714.3,544.6 L713.0,548.7 L711.4,552.8 L709.5,556.8 L707.3,560.7 L704.8,564.4 L701.9,567.9 L698.8,571.3 L695.5,574.4 L691.9,577.3 L688.1,580.0 L684.0,582.5 L679.8,584.7 L675.4,586.6 L670.9,588.2 L666.2,589.6 L661.5,590.6 L656.7,591.4 L651.8,591.9" fill="none" stroke="#565656" stroke-width="3.0" stroke-dasharray="11,2,19,2.4,8,2" stroke-dashoffset="24"/><path d="M699.9,491.8 L702.9,495.2 L705.6,498.8 L708.0,502.5 L710.2,506.4 L712.0,510.5 L713.5,514.6 L714.6,518.8 L715.4,523.1 L715.9,527.4 L716.0,531.7 L715.8,536.0 L715.2,540.3 L714.3,544.6 L713.0,548.7 L711.4,552.8 L709.5,556.8 L707.3,560.7 L704.8,564.4 L701.9,567.9 L698.8,571.3 L695.5,574.4 L691.9,577.3 L688.1,580.0 L684.0,582.5 L679.8,584.7 L675.4,586.6 L670.9,588.2 L666.2,589.6 L661.5,590.6 L656.7,591.4 L651.8,591.9" fill="none" stroke="#565656" stroke-width="4.3" stroke-dasharray="0.8,2.4" stroke-dashoffset="24" opacity="0.8"/></g>
<g><path d="M716.5,507.8 L718.4,511.9 L719.8,516.2 L720.9,520.6 L721.6,525.0 L722.0,529.4 L721.9,533.8 L721.5,538.3 L720.7,542.7 L719.5,547.0 L717.9,551.2 L716.0,555.4 L713.7,559.4 L711.0,563.3 L708.1,567.0 L704.8,570.5 L701.2,573.8 L697.4,576.9 L693.3,579.8 L688.9,582.4" fill="none" stroke="#565656" stroke-width="3.0" stroke-dasharray="21,2.5,13,2,9,2.2" stroke-dashoffset="27"/><path d="M716.5,507.8 L718.4,511.9 L719.8,516.2 L720.9,520.6 L721.6,525.0 L722.0,529.4 L721.9,533.8 L721.5,538.3 L720.7,542.7 L719.5,547.0 L717.9,551.2 L716.0,555.4 L713.7,559.4 L711.0,563.3 L708.1,567.0 L704.8,570.5 L701.2,573.8 L697.4,576.9 L693.3,579.8 L688.9,582.4" fill="none" stroke="#565656" stroke-width="4.3" stroke-dasharray="0.8,2.4" stroke-dashoffset="27" opacity="0.8"/></g>
<defs><clipPath id="nuc"><circle cx="645.8" cy="530.9" r="37"/></clipPath></defs>
<circle cx="645.8" cy="530.9" r="39" fill="#c4c0bf" stroke="#5a5a5a" stroke-width="3" stroke-dasharray="38,3.5"/>
<g clip-path="url(#nuc)"><circle cx="630.8" cy="518.3" r="2.7" fill="none" stroke="#a9a5a4" stroke-width="0.7"/><circle cx="621.2" cy="501.3" r="2.0" fill="none" stroke="#a9a5a4" stroke-width="0.7"/><circle cx="642.8" cy="509.1" r="2.4" fill="none" stroke="#a9a5a4" stroke-width="0.7"/><circle cx="631.4" cy="521.9" r="2.9" fill="none" stroke="#a9a5a4" stroke-width="0.7"/><circle cx="635.0" cy="499.7" r="3.3" fill="none" stroke="#a9a5a4" stroke-width="0.7"/><circle cx="636.5" cy="517.0" r="3.9" fill="none" stroke="#a9a5a4" stroke-width="0.7"/><circle cx="618.1" cy="506.3" r="3.4" fill="none" stroke="#a9a5a4" stroke-width="0.7"/><circle cx="641.2" cy="512.8" r="3.2" fill="none" stroke="#a9a5a4" stroke-width="0.7"/><circle cx="629.2" cy="510.3" r="3.9" fill="none" stroke="#a9a5a4" stroke-width="0.7"/><circle cx="618.3" cy="510.0" r="3.9" fill="none" stroke="#a9a5a4" stroke-width="0.7"/><circle cx="627.0" cy="494.9" r="2.7" fill="none" stroke="#a9a5a4" stroke-width="0.7"/><circle cx="632.9" cy="499.1" r="4.0" fill="none" stroke="#a9a5a4" stroke-width="0.7"/><circle cx="633.2" cy="505.0" r="2.1" fill="none" stroke="#a9a5a4" stroke-width="0.7"/><circle cx="632.8" cy="521.5" r="2.8" fill="none" stroke="#a9a5a4" stroke-width="0.7"/><circle cx="624.6" cy="502.5" r="3.0" fill="none" stroke="#a9a5a4" stroke-width="0.7"/><circle cx="623.7" cy="513.5" r="3.2" fill="none" stroke="#a9a5a4" stroke-width="0.7"/><circle cx="618.5" cy="501.3" r="3.4" fill="none" stroke="#a9a5a4" stroke-width="0.7"/><circle cx="641.7" cy="502.4" r="4.2" fill="none" stroke="#a9a5a4" stroke-width="0.7"/><circle cx="627.3" cy="503.0" r="3.9" fill="none" stroke="#a9a5a4" stroke-width="0.7"/><circle cx="643.0" cy="505.1" r="3.2" fill="none" stroke="#a9a5a4" stroke-width="0.7"/><circle cx="628.6" cy="501.7" r="3.8" fill="none" stroke="#a9a5a4" stroke-width="0.7"/><circle cx="623.3" cy="504.7" r="2.0" fill="none" stroke="#a9a5a4" stroke-width="0.7"/><circle cx="638.5" cy="496.9" r="2.0" fill="none" stroke="#a9a5a4" stroke-width="0.7"/><circle cx="632.8" cy="499.5" r="2.2" fill="none" stroke="#a9a5a4" stroke-width="0.7"/><circle cx="626.7" cy="519.8" r="3.9" fill="none" stroke="#a9a5a4" stroke-width="0.7"/><circle cx="640.6" cy="511.0" r="1.9" fill="none" stroke="#a9a5a4" stroke-width="0.7"/><circle cx="664.5" cy="506.7" r="3.9" fill="none" stroke="#a9a5a4" stroke-width="0.7"/><circle cx="675.2" cy="512.9" r="4.2" fill="none" stroke="#a9a5a4" stroke-width="0.7"/><circle cx="664.7" cy="517.4" r="3.2" fill="none" stroke="#a9a5a4" stroke-width="0.7"/><circle cx="671.7" cy="515.1" r="2.8" fill="none" stroke="#a9a5a4" stroke-width="0.7"/><circle cx="662.1" cy="510.7" r="1.9" fill="none" stroke="#a9a5a4" stroke-width="0.7"/><circle cx="670.9" cy="508.6" r="4.1" fill="none" stroke="#a9a5a4" stroke-width="0.7"/><circle cx="672.4" cy="509.2" r="2.9" fill="none" stroke="#a9a5a4" stroke-width="0.7"/><circle cx="655.7" cy="512.7" r="3.2" fill="none" stroke="#a9a5a4" stroke-width="0.7"/><circle cx="656.5" cy="510.3" r="4.1" fill="none" stroke="#a9a5a4" stroke-width="0.7"/><circle cx="657.5" cy="513.6" r="3.5" fill="none" stroke="#a9a5a4" stroke-width="0.7"/><circle cx="666.6" cy="521.1" r="4.1" fill="none" stroke="#a9a5a4" stroke-width="0.7"/><circle cx="656.5" cy="512.7" r="1.8" fill="none" stroke="#a9a5a4" stroke-width="0.7"/><circle cx="657.5" cy="519.0" r="1.8" fill="none" stroke="#a9a5a4" stroke-width="0.7"/><circle cx="658.3" cy="507.1" r="1.9" fill="none" stroke="#a9a5a4" stroke-width="0.7"/><circle cx="659.8" cy="507.6" r="3.4" fill="none" stroke="#a9a5a4" stroke-width="0.7"/><circle cx="659.4" cy="522.7" r="3.6" fill="none" stroke="#a9a5a4" stroke-width="0.7"/><circle cx="669.2" cy="514.4" r="3.4" fill="none" stroke="#a9a5a4" stroke-width="0.7"/><circle cx="672.3" cy="512.5" r="2.9" fill="none" stroke="#a9a5a4" stroke-width="0.7"/><circle cx="659.9" cy="510.0" r="2.7" fill="none" stroke="#a9a5a4" stroke-width="0.7"/><circle cx="663.0" cy="521.3" r="3.2" fill="none" stroke="#a9a5a4" stroke-width="0.7"/><circle cx="663.5" cy="521.6" r="3.7" fill="none" stroke="#a9a5a4" stroke-width="0.7"/><circle cx="675.7" cy="515.7" r="3.6" fill="none" stroke="#a9a5a4" stroke-width="0.7"/><circle cx="663.7" cy="519.7" r="3.7" fill="none" stroke="#a9a5a4" stroke-width="0.7"/><circle cx="666.4" cy="519.6" r="2.8" fill="none" stroke="#a9a5a4" stroke-width="0.7"/><circle cx="622.6" cy="549.8" r="2.6" fill="none" stroke="#a9a5a4" stroke-width="0.7"/><circle cx="617.6" cy="565.1" r="2.9" fill="none" stroke="#a9a5a4" stroke-width="0.7"/><circle cx="627.5" cy="549.5" r="2.6" fill="none" stroke="#a9a5a4" stroke-width="0.7"/><circle cx="616.3" cy="543.3" r="2.9" fill="none" stroke="#a9a5a4" stroke-width="0.7"/><circle cx="624.8" cy="558.8" r="3.1" fill="none" stroke="#a9a5a4" stroke-width="0.7"/><circle cx="628.6" cy="565.7" r="3.8" fill="none" stroke="#a9a5a4" stroke-width="0.7"/><circle cx="627.0" cy="560.8" r="3.7" fill="none" stroke="#a9a5a4" stroke-width="0.7"/><circle cx="616.1" cy="544.2" r="2.6" fill="none" stroke="#a9a5a4" stroke-width="0.7"/><circle cx="629.2" cy="559.5" r="3.7" fill="none" stroke="#a9a5a4" stroke-width="0.7"/><circle cx="622.9" cy="562.2" r="2.8" fill="none" stroke="#a9a5a4" stroke-width="0.7"/><circle cx="616.2" cy="558.3" r="4.0" fill="none" stroke="#a9a5a4" stroke-width="0.7"/><circle cx="624.5" cy="554.8" r="4.1" fill="none" stroke="#a9a5a4" stroke-width="0.7"/><circle cx="634.1" cy="544.5" r="2.8" fill="none" stroke="#a9a5a4" stroke-width="0.7"/><circle cx="636.8" cy="549.8" r="2.3" fill="none" stroke="#a9a5a4" stroke-width="0.7"/><circle cx="623.6" cy="541.2" r="3.4" fill="none" stroke="#a9a5a4" stroke-width="0.7"/><circle cx="616.5" cy="553.1" r="2.6" fill="none" stroke="#a9a5a4" stroke-width="0.7"/><circle cx="624.5" cy="557.6" r="3.2" fill="none" stroke="#a9a5a4" stroke-width="0.7"/><circle cx="621.1" cy="566.3" r="1.9" fill="none" stroke="#a9a5a4" stroke-width="0.7"/><circle cx="633.6" cy="547.4" r="4.0" fill="none" stroke="#a9a5a4" stroke-width="0.7"/><circle cx="634.6" cy="546.0" r="3.2" fill="none" stroke="#a9a5a4" stroke-width="0.7"/><circle cx="636.0" cy="555.0" r="2.2" fill="none" stroke="#a9a5a4" stroke-width="0.7"/><circle cx="620.5" cy="564.8" r="3.1" fill="none" stroke="#a9a5a4" stroke-width="0.7"/><circle cx="612.4" cy="561.0" r="3.3" fill="none" stroke="#a9a5a4" stroke-width="0.7"/><circle cx="620.2" cy="559.9" r="3.9" fill="none" stroke="#a9a5a4" stroke-width="0.7"/><circle cx="611.7" cy="555.8" r="2.6" fill="none" stroke="#a9a5a4" stroke-width="0.7"/><circle cx="627.3" cy="563.7" r="3.8" fill="none" stroke="#a9a5a4" stroke-width="0.7"/><circle cx="669.5" cy="562.2" r="4.0" fill="none" stroke="#a9a5a4" stroke-width="0.7"/><circle cx="668.1" cy="540.9" r="1.8" fill="none" stroke="#a9a5a4" stroke-width="0.7"/><circle cx="655.7" cy="543.3" r="1.9" fill="none" stroke="#a9a5a4" stroke-width="0.7"/><circle cx="663.1" cy="558.7" r="3.1" fill="none" stroke="#a9a5a4" stroke-width="0.7"/><circle cx="656.1" cy="556.2" r="3.7" fill="none" stroke="#a9a5a4" stroke-width="0.7"/><circle cx="667.0" cy="552.0" r="2.1" fill="none" stroke="#a9a5a4" stroke-width="0.7"/><circle cx="666.4" cy="554.4" r="4.1" fill="none" stroke="#a9a5a4" stroke-width="0.7"/><circle cx="666.3" cy="549.0" r="3.0" fill="none" stroke="#a9a5a4" stroke-width="0.7"/><circle cx="661.1" cy="558.7" r="2.6" fill="none" stroke="#a9a5a4" stroke-width="0.7"/><circle cx="658.0" cy="544.1" r="2.7" fill="none" stroke="#a9a5a4" stroke-width="0.7"/><circle cx="666.7" cy="558.9" r="2.1" fill="none" stroke="#a9a5a4" stroke-width="0.7"/><circle cx="653.7" cy="548.2" r="2.7" fill="none" stroke="#a9a5a4" stroke-width="0.7"/><circle cx="668.8" cy="554.6" r="2.7" fill="none" stroke="#a9a5a4" stroke-width="0.7"/><circle cx="654.9" cy="545.0" r="2.7" fill="none" stroke="#a9a5a4" stroke-width="0.7"/><circle cx="667.2" cy="542.3" r="2.8" fill="none" stroke="#a9a5a4" stroke-width="0.7"/><circle cx="657.6" cy="558.6" r="3.5" fill="none" stroke="#a9a5a4" stroke-width="0.7"/><circle cx="654.5" cy="557.2" r="2.9" fill="none" stroke="#a9a5a4" stroke-width="0.7"/><circle cx="664.3" cy="561.5" r="3.5" fill="none" stroke="#a9a5a4" stroke-width="0.7"/><circle cx="671.6" cy="555.7" r="2.8" fill="none" stroke="#a9a5a4" stroke-width="0.7"/><circle cx="673.2" cy="543.4" r="2.7" fill="none" stroke="#a9a5a4" stroke-width="0.7"/><circle cx="673.3" cy="545.1" r="2.4" fill="none" stroke="#a9a5a4" stroke-width="0.7"/><circle cx="659.6" cy="553.0" r="3.8" fill="none" stroke="#a9a5a4" stroke-width="0.7"/><circle cx="657.6" cy="541.6" r="3.7" fill="none" stroke="#a9a5a4" stroke-width="0.7"/><circle cx="658.5" cy="542.3" r="3.2" fill="none" stroke="#a9a5a4" stroke-width="0.7"/><circle cx="657.5" cy="540.2" r="1.8" fill="none" stroke="#a9a5a4" stroke-width="0.7"/><circle cx="656.9" cy="542.2" r="1.9" fill="none" stroke="#a9a5a4" stroke-width="0.7"/><circle cx="654.4" cy="537.5" r="3.9" fill="none" stroke="#a9a5a4" stroke-width="0.7"/><circle cx="652.6" cy="537.2" r="3.8" fill="none" stroke="#a9a5a4" stroke-width="0.7"/><circle cx="658.0" cy="541.7" r="3.4" fill="none" stroke="#a9a5a4" stroke-width="0.7"/><circle cx="656.5" cy="528.5" r="3.2" fill="none" stroke="#a9a5a4" stroke-width="0.7"/><circle cx="652.5" cy="534.4" r="3.6" fill="none" stroke="#a9a5a4" stroke-width="0.7"/><circle cx="644.4" cy="535.5" r="2.1" fill="none" stroke="#a9a5a4" stroke-width="0.7"/><circle cx="645.9" cy="555.3" r="1.9" fill="none" stroke="#a9a5a4" stroke-width="0.7"/><circle cx="643.0" cy="570.0" r="3.8" fill="none" stroke="#a9a5a4" stroke-width="0.7"/><circle cx="646.2" cy="567.8" r="2.4" fill="none" stroke="#a9a5a4" stroke-width="0.7"/><circle cx="640.2" cy="558.8" r="2.7" fill="none" stroke="#a9a5a4" stroke-width="0.7"/><circle cx="642.2" cy="568.2" r="2.6" fill="none" stroke="#a9a5a4" stroke-width="0.7"/><circle cx="643.7" cy="565.3" r="3.0" fill="none" stroke="#a9a5a4" stroke-width="0.7"/><circle cx="651.7" cy="563.0" r="3.6" fill="none" stroke="#a9a5a4" stroke-width="0.7"/><circle cx="650.0" cy="570.3" r="3.6" fill="none" stroke="#a9a5a4" stroke-width="0.7"/><circle cx="643.0" cy="558.3" r="3.0" fill="none" stroke="#a9a5a4" stroke-width="0.7"/><circle cx="640.7" cy="557.3" r="2.2" fill="none" stroke="#a9a5a4" stroke-width="0.7"/></g>
<circle cx="635" cy="526" r="12.3" fill="#686868"/>
<line x1="640.6" y1="605" x2="648" y2="609.6" stroke="#d9d9d9" stroke-width="4.2" stroke-linecap="round"/>
<line x1="652.5" y1="606.8" x2="670" y2="603.2" stroke="#d9d9d9" stroke-width="4.2" stroke-linecap="round"/>
<line x1="659" y1="620.6" x2="671.8" y2="613.3" stroke="#d9d9d9" stroke-width="4.2" stroke-linecap="round"/>
<line x1="673.6" y1="615" x2="686.4" y2="607.8" stroke="#d9d9d9" stroke-width="4.2" stroke-linecap="round"/>
<line x1="688.3" y1="602.3" x2="696.5" y2="593.1" stroke="#d9d9d9" stroke-width="4.2" stroke-linecap="round"/>
<line x1="692" y1="611.4" x2="699.2" y2="606" stroke="#d9d9d9" stroke-width="4.2" stroke-linecap="round"/>
<line x1="699.2" y1="593.1" x2="705.7" y2="583" stroke="#d9d9d9" stroke-width="4.2" stroke-linecap="round"/>
<line x1="654.4" y1="615" x2="655" y2="615.5" stroke="#d9d9d9" stroke-width="4.2" stroke-linecap="round"/>
<line x1="684.6" y1="596.8" x2="685" y2="597" stroke="#d9d9d9" stroke-width="4.2" stroke-linecap="round"/>
<path d="M559.5,545.9 Q590,556 612.8,578.6" fill="none" stroke="#b8978a" stroke-width="4.6" stroke-linecap="round"/>
<path d="M557.1,551.3 Q588,565 614.6,590.7" fill="none" stroke="#b8978a" stroke-width="4.6" stroke-linecap="round"/>
<path d="M561.9,562.2 Q585,570 600.7,597.9" fill="none" stroke="#b8978a" stroke-width="4.6" stroke-linecap="round"/>
<path d="M566.2,571.3 Q578,575 581.3,591.9" fill="none" stroke="#b8978a" stroke-width="4.6" stroke-linecap="round"/>
<path d="M575.3,541.1 Q590,565 612.8,604" fill="none" stroke="#b8978a" stroke-width="4.6" stroke-linecap="round"/>
<path d="M585.6,548.9 Q598,562 612.8,577.4" fill="none" stroke="#b8978a" stroke-width="4.6" stroke-linecap="round"/>
<path d="M559.5,545.9 Q590,556 612.8,578.6" fill="none" stroke="#d0b6aa" stroke-width="3.0" stroke-linecap="round"/>
<path d="M557.1,551.3 Q588,565 614.6,590.7" fill="none" stroke="#d0b6aa" stroke-width="3.0" stroke-linecap="round"/>
<path d="M561.9,562.2 Q585,570 600.7,597.9" fill="none" stroke="#d0b6aa" stroke-width="3.0" stroke-linecap="round"/>
<path d="M566.2,571.3 Q578,575 581.3,591.9" fill="none" stroke="#d0b6aa" stroke-width="3.0" stroke-linecap="round"/>
<path d="M575.3,541.1 Q590,565 612.8,604" fill="none" stroke="#d0b6aa" stroke-width="3.0" stroke-linecap="round"/>
<path d="M585.6,548.9 Q598,562 612.8,577.4" fill="none" stroke="#d0b6aa" stroke-width="3.0" stroke-linecap="round"/>
<circle cx="555.9" cy="560.4" r="2.4" fill="#d0b6aa" stroke="#b8978a" stroke-width="0.8"/>
<circle cx="591.6" cy="547.7" r="2.4" fill="#d0b6aa" stroke="#b8978a" stroke-width="0.8"/>
<circle cx="574.7" cy="581" r="2.3" fill="#d0b6aa" stroke="#b8978a" stroke-width="0.8"/>
<circle cx="588" cy="594.3" r="2.3" fill="#d0b6aa" stroke="#b8978a" stroke-width="0.8"/>
<circle cx="620.7" cy="588.3" r="2.6" fill="#d0b6aa" stroke="#b8978a" stroke-width="0.8"/>
<path d="M532.6,519.6 Q536.7,507.7 548.7,501.8" fill="none" stroke="#eba57e" stroke-width="12.0" stroke-linecap="round"/>
<path d="M532.6,519.6 Q536.7,507.7 548.7,501.8" fill="none" stroke="#f8d6c0" stroke-width="9.6" stroke-linecap="round"/>
<path d="M532.6,519.6 Q536.7,507.7 548.7,501.8" fill="none" stroke="#eeae88" stroke-width="7.5" stroke-dasharray="1,2.2" stroke-linecap="butt"/>
<path d="M553.8,628.7 Q564.4,621.7 567,608.6" fill="none" stroke="#eba57e" stroke-width="11.0" stroke-linecap="round"/>
<path d="M553.8,628.7 Q564.4,621.7 567,608.6" fill="none" stroke="#f8d6c0" stroke-width="8.6" stroke-linecap="round"/>
<path d="M553.8,628.7 Q564.4,621.7 567,608.6" fill="none" stroke="#eeae88" stroke-width="6.5" stroke-dasharray="1,2.2" stroke-linecap="butt"/>
<path d="M728.2,598.7 Q738.8,591.1 741.4,577.5" fill="none" stroke="#eba57e" stroke-width="11.0" stroke-linecap="round"/>
<path d="M728.2,598.7 Q738.8,591.1 741.4,577.5" fill="none" stroke="#f8d6c0" stroke-width="8.6" stroke-linecap="round"/>
<path d="M728.2,598.7 Q738.8,591.1 741.4,577.5" fill="none" stroke="#eeae88" stroke-width="6.5" stroke-dasharray="1,2.2" stroke-linecap="butt"/>
<circle cx="581.9" cy="488.7" r="5.6" fill="#fbe6fa" stroke="#da86d6" stroke-width="2"/><circle cx="581.9" cy="488.7" r="3.4" fill="#d784d3"/>
<circle cx="482.7" cy="540.9" r="5.6" fill="#fbe6fa" stroke="#da86d6" stroke-width="2"/><circle cx="482.7" cy="540.9" r="3.4" fill="#d784d3"/>
<circle cx="742.4" cy="523.8" r="5.8" fill="#fbe6fa" stroke="#da86d6" stroke-width="2"/><circle cx="742.4" cy="523.8" r="3.5" fill="#d784d3"/>
<circle cx="588.1" cy="631.5" r="4.5" fill="#fbe6fa" stroke="#da86d6" stroke-width="2"/><circle cx="588.1" cy="631.5" r="2.9" fill="#d784d3"/>
<circle cx="541.3" cy="551.5" r="10.2" fill="#f7f0fa" stroke="#9c91d8" stroke-width="2.2"/>
<circle cx="538.3" cy="548.5" r="1.8" fill="#8a66c6"/>
<circle cx="544.3" cy="549.0" r="1.6" fill="#8a66c6"/>
<circle cx="537.3" cy="554.5" r="1.7" fill="#8a66c6"/>
<circle cx="543.3" cy="555.0" r="1.5" fill="#8a66c6"/>
<circle cx="541.3" cy="551.5" r="1.0" fill="#8a66c6"/>
<circle cx="546.3" cy="552.5" r="1.0" fill="#8a66c6"/>
<circle cx="626.4" cy="629.7" r="10.2" fill="#f7f0fa" stroke="#9c91d8" stroke-width="2.2"/>
<circle cx="623.4" cy="626.7" r="1.8" fill="#8a66c6"/>
<circle cx="629.4" cy="627.2" r="1.6" fill="#8a66c6"/>
<circle cx="622.4" cy="632.7" r="1.7" fill="#8a66c6"/>
<circle cx="628.4" cy="633.2" r="1.5" fill="#8a66c6"/>
<circle cx="626.4" cy="629.7" r="1.0" fill="#8a66c6"/>
<circle cx="631.4" cy="630.7" r="1.0" fill="#8a66c6"/>
<path d="M507.3,583.8 L522.2,585.3 M506.1,587.2 L519.8,595.5 M503.6,589.7 L512.9,604.0 M500.3,590.9 L502.2,605.8 M496.8,590.6 L491.7,605.7 M493.7,588.7 L481.8,600.9 M491.8,585.7 L477.7,590.9 M491.3,582.2 L475.4,580.6 M492.5,578.8 L478.0,570.0 M495.0,576.3 L486.8,563.7 M498.3,575.1 L496.3,559.2 M501.8,575.4 L507.3,559.3 M504.9,577.3 L515.4,566.5 M506.8,580.3 L521.9,574.8" stroke="#4d8a44" stroke-width="1.3" fill="none"/>
<circle cx="499.3" cy="583" r="8.3" fill="#e6f0cf" stroke="#5b9450" stroke-width="1.2" stroke-dasharray="1.5,1"/>
<path d="M494,580 L500,576 L503,580 L506,586 L501,589 L496,586 Z" fill="#3fa193"/>
<line x1="529.5" y1="588" x2="556" y2="603" stroke="#98c78b" stroke-width="5.5"/>
<line x1="529.5" y1="588" x2="556" y2="603" stroke="#6fae62" stroke-width="5.5" stroke-dasharray="0.8,1.6"/>
<ellipse cx="534.6" cy="611.4" rx="3.8" ry="5.2" fill="#8dbd82"/>
<path d="M565,506.7 Q569,503 572,507 Q577,515 582.2,523.2" fill="none" stroke="#4cbcc6" stroke-width="2" stroke-linecap="round"/>
<path d="M663.5,638.9 Q669,632 675,636 Q681,642 686.4,632.5" fill="none" stroke="#4cbcc6" stroke-width="2" stroke-linecap="round"/>
<circle cx="572.9" cy="485.1" r="1.3" fill="#d9506a"/>
<circle cx="598.8" cy="491.6" r="1.3" fill="#d9506a"/>
<circle cx="493.8" cy="523.9" r="1.3" fill="#d9506a"/>
<circle cx="470.5" cy="549.1" r="1.3" fill="#d9506a"/>
<circle cx="497.4" cy="553.4" r="1.3" fill="#d9506a"/>
<circle cx="573.1" cy="629.3" r="1.3" fill="#d9506a"/>
<circle cx="599.6" cy="633.4" r="1.3" fill="#d9506a"/>
<circle cx="584.1" cy="645.3" r="1.3" fill="#d9506a"/>
<circle cx="732.8" cy="514.9" r="1.3" fill="#d9506a"/>
<circle cx="755.6" cy="532" r="1.3" fill="#d9506a"/>
<circle cx="740.6" cy="546.2" r="1.3" fill="#d9506a"/>
</svg></body></html>
